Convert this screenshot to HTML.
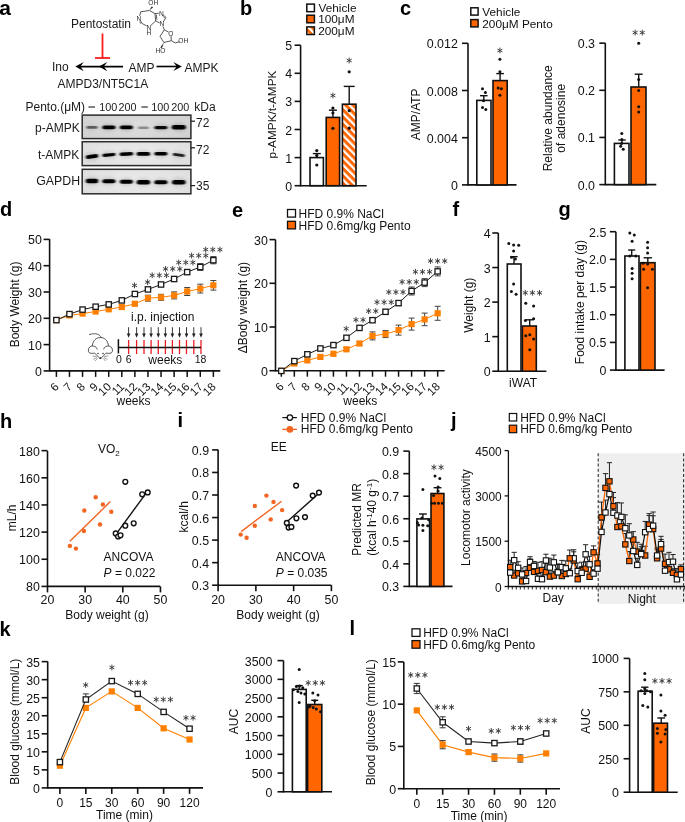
<!DOCTYPE html>
<html><head><meta charset="utf-8"><style>
html,body{margin:0;padding:0;background:#fff;overflow:hidden;}
svg{display:block;will-change:transform;}
text{font-family:"Liberation Sans",sans-serif;}
</style></head><body>
<svg width="685" height="822" viewBox="0 0 685 822">
<rect width="685" height="822" fill="#fff"/>
<text x="-0.8" y="14.6" font-size="21" font-weight="bold" fill="#000">a</text>
<text x="71" y="27.8" font-size="12" text-anchor="start" font-weight="normal" fill="#1a1a1a" >Pentostatin</text>
<line x1="102.5" y1="33.5" x2="102.5" y2="58" stroke="#fa1e1e" stroke-width="1.8" />
<line x1="95" y1="58" x2="110" y2="58" stroke="#fa1e1e" stroke-width="1.8" />
<line x1="80" y1="66.6" x2="123" y2="66.6" stroke="#000" stroke-width="1.6" />
<path d="M75.3 66.6 L83.8 62 L80.3 66.6 L83.8 71.2 Z" fill="#000" stroke="none" stroke-width="1.5" />
<path d="M98.8 66.6 L107.3 62 L103.8 66.6 L107.3 71.2 Z" fill="#000" stroke="none" stroke-width="1.5" />
<text x="52" y="70.8" font-size="12" text-anchor="start" font-weight="normal" fill="#1a1a1a" >Ino</text>
<text x="128.5" y="71.6" font-size="12" text-anchor="start" font-weight="normal" fill="#1a1a1a" >AMP</text>
<line x1="156.5" y1="66.5" x2="177" y2="66.5" stroke="#000" stroke-width="1.6" />
<path d="M181.8 66.5 L173.3 61.9 L176.8 66.5 L173.3 71.1 Z" fill="#000" stroke="none" stroke-width="1.5" />
<text x="184.5" y="72.4" font-size="12" text-anchor="start" font-weight="normal" fill="#1a1a1a" >AMPK</text>
<text x="57.5" y="87.8" font-size="12" text-anchor="start" font-weight="normal" fill="#1a1a1a" >AMPD3/NT5C1A</text>
<line x1="149.4" y1="10.5" x2="140.7" y2="11.8" stroke="#3a3a3a" stroke-width="0.85" />
<line x1="149.4" y1="10.5" x2="155.0" y2="13.6" stroke="#3a3a3a" stroke-width="0.85" />
<line x1="155.0" y1="13.6" x2="155.6" y2="21.0" stroke="#3a3a3a" stroke-width="0.85" />
<line x1="155.6" y1="21.0" x2="150.91" y2="25.34" stroke="#3a3a3a" stroke-width="0.85" />
<line x1="155.0" y1="13.6" x2="158.71" y2="13.31" stroke="#3a3a3a" stroke-width="0.85" />
<line x1="163.2" y1="14.88" x2="166.0" y2="17.5" stroke="#3a3a3a" stroke-width="0.85" />
<line x1="166.0" y1="17.5" x2="163.36" y2="21.79" stroke="#3a3a3a" stroke-width="0.85" />
<line x1="159.65" y1="22.9" x2="155.6" y2="21.0" stroke="#3a3a3a" stroke-width="0.85" />
<line x1="162.96" y1="26.42" x2="164.3" y2="29.8" stroke="#3a3a3a" stroke-width="0.85" />
<line x1="164.3" y1="29.8" x2="168.6" y2="32.08" stroke="#3a3a3a" stroke-width="0.85" />
<line x1="171.04" y1="35.9" x2="171.3" y2="40.7" stroke="#3a3a3a" stroke-width="0.85" />
<line x1="171.3" y1="40.7" x2="163.9" y2="42.5" stroke="#3a3a3a" stroke-width="0.85" />
<line x1="163.9" y1="42.5" x2="160.0" y2="36.3" stroke="#3a3a3a" stroke-width="0.85" />
<line x1="160.0" y1="36.3" x2="164.3" y2="29.8" stroke="#3a3a3a" stroke-width="0.85" />
<line x1="171.3" y1="40.7" x2="175.3" y2="42.9" stroke="#3a3a3a" stroke-width="0.85" />
<line x1="175.3" y1="42.9" x2="179.42" y2="41.76" stroke="#3a3a3a" stroke-width="0.85" />
<line x1="140.7" y1="11.8" x2="139.65" y2="15.88" stroke="#3a3a3a" stroke-width="0.85" />
<line x1="140.39" y1="20.6" x2="142.3" y2="23.6" stroke="#3a3a3a" stroke-width="0.85" />
<line x1="142.3" y1="23.6" x2="146.7" y2="25.9" stroke="#3a3a3a" stroke-width="0.85" />
<line x1="156.39" y1="14.69" x2="156.8" y2="19.7" stroke="#3a3a3a" stroke-width="0.85" />
<line x1="162.82" y1="16.16" x2="164.74" y2="17.97" stroke="#3a3a3a" stroke-width="0.85" />
<line x1="139.7" y1="21.74" x2="140.97" y2="23.74" stroke="#3a3a3a" stroke-width="0.85" />
<g font-size="6.6" fill="#2a2a2a" text-anchor="middle">
<text x="153.3" y="5.4">OH</text>
<text x="139" y="20.8">N</text>
<text x="161.3" y="15.5">N</text>
<text x="162" y="26.4">N</text>
<text x="149" y="29.5">N</text>
<text x="149" y="34.5">H</text>
<text x="170.9" y="35.7">O</text>
<text x="183.3" y="43.3">OH</text>
<text x="160.4" y="52.5">HO</text>
</g>
<path d="M149.4 10.5 L151.6 6.6 L153.2 7.2 Z" fill="#2a2a2a" stroke="none" stroke-width="1.5" />
<path d="M163.9 42.5 L160.2 47.5 L162 48 Z" fill="#2a2a2a" stroke="none" stroke-width="1.5" />
<text x="25.5" y="111" font-size="12" text-anchor="start" font-weight="normal" fill="#1a1a1a" >Pento.(μM)</text>
<text x="99.2" y="111" font-size="10.8" text-anchor="start" font-weight="normal" fill="#1a1a1a" >100</text>
<text x="118.6" y="111" font-size="10.8" text-anchor="start" font-weight="normal" fill="#1a1a1a" >200</text>
<text x="151.2" y="111" font-size="10.8" text-anchor="start" font-weight="normal" fill="#1a1a1a" >100</text>
<text x="171.2" y="111" font-size="10.8" text-anchor="start" font-weight="normal" fill="#1a1a1a" >200</text>
<line x1="88.4" y1="107" x2="95" y2="107" stroke="#1a1a1a" stroke-width="1.1" />
<line x1="141.4" y1="107" x2="147.8" y2="107" stroke="#1a1a1a" stroke-width="1.1" />
<text x="194.3" y="111" font-size="12" text-anchor="start" font-weight="normal" fill="#1a1a1a" >kDa</text>
<text x="35" y="131.5" font-size="12" text-anchor="start" font-weight="normal" fill="#1a1a1a" >p-AMPK</text>
<text x="38" y="158.6" font-size="12" text-anchor="start" font-weight="normal" fill="#1a1a1a" >t-AMPK</text>
<text x="36.3" y="185.2" font-size="12.3" text-anchor="start" font-weight="normal" fill="#1a1a1a" >GAPDH</text>
<defs><filter id="blur1" x="-50%" y="-150%" width="200%" height="400%"><feGaussianBlur stdDeviation="0.9 0.7"/></filter><filter id="halo" x="-50%" y="-200%" width="200%" height="500%"><feGaussianBlur stdDeviation="2.2 2"/></filter><radialGradient id="bg2" cx="0.5" cy="0.5" r="0.7"><stop offset="0" stop-color="#f0f0f0"/><stop offset="1" stop-color="#dcdcdc"/></radialGradient><radialGradient id="bg1" cx="0.5" cy="0.5" r="0.7"><stop offset="0" stop-color="#e2e2e2"/><stop offset="1" stop-color="#cfcfcf"/></radialGradient></defs>
<rect x="82.2" y="115.1" width="108.7" height="23.5" fill="url(#bg1)" stroke="#2a2a2a" stroke-width="1.5" />
<g filter="url(#halo)">
<ellipse cx="92.0" cy="127.4" rx="6.5" ry="2.8" fill="#000" opacity="0.099"/>
<ellipse cx="108.9" cy="127.4" rx="7.5" ry="3.3" fill="#000" opacity="0.18"/>
<ellipse cx="126.4" cy="127.4" rx="7.5" ry="3.3" fill="#000" opacity="0.18"/>
<ellipse cx="143.4" cy="127.8" rx="6.5" ry="2.7" fill="#000" opacity="0.063"/>
<ellipse cx="160.9" cy="127.6" rx="7.5" ry="3.2" fill="#000" opacity="0.17099999999999999"/>
<ellipse cx="178.8" cy="127.2" rx="8.0" ry="3.7" fill="#000" opacity="0.18"/>
</g><g filter="url(#blur1)">
<rect x="86.5" y="126.10000000000001" width="11" height="2.6" rx="1.3" fill="#000" opacity="0.55" transform="rotate(0 92.0 127.4)"/>
<rect x="102.4" y="125.60000000000001" width="13" height="3.6" rx="1.8" fill="#000" opacity="1" transform="rotate(0 108.9 127.4)"/>
<rect x="119.9" y="125.60000000000001" width="13" height="3.6" rx="1.8" fill="#000" opacity="1" transform="rotate(0 126.4 127.4)"/>
<rect x="137.9" y="126.6" width="11" height="2.4" rx="1.2" fill="#000" opacity="0.35" transform="rotate(0 143.4 127.8)"/>
<rect x="154.4" y="125.89999999999999" width="13" height="3.4" rx="1.7" fill="#000" opacity="0.95" transform="rotate(0 160.9 127.6)"/>
<rect x="171.8" y="125.0" width="14" height="4.4" rx="2.2" fill="#000" opacity="1" transform="rotate(0 178.8 127.2)"/>
</g>
<rect x="82.2" y="141.7" width="108.7" height="23.900000000000006" fill="url(#bg2)" stroke="#2a2a2a" stroke-width="1.5" />
<g filter="url(#halo)">
<ellipse cx="92.0" cy="156.5" rx="7.25" ry="3.3" fill="#000" opacity="0.18"/>
<ellipse cx="108.9" cy="154.9" rx="7.5" ry="3.1" fill="#000" opacity="0.18"/>
<ellipse cx="126.4" cy="154.0" rx="7.75" ry="3.2" fill="#000" opacity="0.18"/>
<ellipse cx="143.4" cy="153.9" rx="7.75" ry="3.4" fill="#000" opacity="0.18"/>
<ellipse cx="160.9" cy="153.8" rx="7.5" ry="3.2" fill="#000" opacity="0.18"/>
<ellipse cx="178.8" cy="155.0" rx="7.0" ry="2.9" fill="#000" opacity="0.153"/>
</g><g filter="url(#blur1)">
<rect x="85.75" y="154.7" width="12.5" height="3.6" rx="1.8" fill="#000" opacity="1" transform="rotate(-8 92.0 156.5)"/>
<rect x="102.4" y="153.3" width="13" height="3.2" rx="1.6" fill="#000" opacity="1" transform="rotate(-5 108.9 154.9)"/>
<rect x="119.65" y="152.3" width="13.5" height="3.4" rx="1.7" fill="#000" opacity="1" transform="rotate(-2 126.4 154.0)"/>
<rect x="136.65" y="152.0" width="13.5" height="3.8" rx="1.9" fill="#000" opacity="1" transform="rotate(0 143.4 153.9)"/>
<rect x="154.4" y="152.10000000000002" width="13" height="3.4" rx="1.7" fill="#000" opacity="1" transform="rotate(0 160.9 153.8)"/>
<rect x="172.8" y="153.6" width="12" height="2.8" rx="1.4" fill="#000" opacity="0.85" transform="rotate(8 178.8 155.0)"/>
</g>
<rect x="82.2" y="169.3" width="108.7" height="24.5" fill="url(#bg2)" stroke="#2a2a2a" stroke-width="1.5" />
<g filter="url(#halo)">
<ellipse cx="92.0" cy="181.0" rx="7.25" ry="3.8" fill="#000" opacity="0.18"/>
<ellipse cx="108.9" cy="181.3" rx="7.5" ry="3.5" fill="#000" opacity="0.18"/>
<ellipse cx="126.4" cy="181.8" rx="7.5" ry="3.5" fill="#000" opacity="0.18"/>
<ellipse cx="143.4" cy="182.2" rx="7.75" ry="3.8" fill="#000" opacity="0.18"/>
<ellipse cx="160.9" cy="182.2" rx="7.5" ry="3.5" fill="#000" opacity="0.18"/>
<ellipse cx="178.8" cy="182.2" rx="7.75" ry="3.7" fill="#000" opacity="0.18"/>
</g><g filter="url(#blur1)">
<rect x="85.75" y="178.7" width="12.5" height="4.6" rx="2.3" fill="#000" opacity="1" transform="rotate(0 92.0 181.0)"/>
<rect x="102.4" y="179.3" width="13" height="4.0" rx="2.0" fill="#000" opacity="1" transform="rotate(0 108.9 181.3)"/>
<rect x="119.9" y="179.8" width="13" height="4.0" rx="2.0" fill="#000" opacity="1" transform="rotate(0 126.4 181.8)"/>
<rect x="136.65" y="179.89999999999998" width="13.5" height="4.6" rx="2.3" fill="#000" opacity="1" transform="rotate(0 143.4 182.2)"/>
<rect x="154.4" y="180.2" width="13" height="4.0" rx="2.0" fill="#000" opacity="1" transform="rotate(0 160.9 182.2)"/>
<rect x="172.05" y="180.0" width="13.5" height="4.4" rx="2.2" fill="#000" opacity="1" transform="rotate(0 178.8 182.2)"/>
</g>
<line x1="190.9" y1="121.2" x2="195" y2="121.2" stroke="#1a1a1a" stroke-width="1.2" />
<text x="196" y="126.8" font-size="12" text-anchor="start" font-weight="normal" fill="#1a1a1a" >72</text>
<line x1="190.9" y1="147.8" x2="195" y2="147.8" stroke="#1a1a1a" stroke-width="1.2" />
<text x="196" y="153.8" font-size="12" text-anchor="start" font-weight="normal" fill="#1a1a1a" >72</text>
<line x1="190.9" y1="185.6" x2="195" y2="185.6" stroke="#1a1a1a" stroke-width="1.2" />
<text x="196" y="190.2" font-size="12" text-anchor="start" font-weight="normal" fill="#1a1a1a" >35</text>
<text x="240" y="14.6" font-size="20" text-anchor="start" font-weight="bold" fill="#000" >b</text>
<defs><pattern id="hatch" patternUnits="userSpaceOnUse" width="5.2" height="5.2" patternTransform="rotate(-45)"><rect width="5.2" height="5.2" fill="#ff6600"/><rect width="2.2" height="5.2" fill="#fff"/></pattern></defs>
<rect x="306.8" y="4.1" width="7.6" height="7.6" fill="#fff" stroke="#111" stroke-width="1.5" />
<rect x="306.8" y="15.2" width="7.6" height="7.6" fill="#ff6600" stroke="#111" stroke-width="1.5" />
<rect x="306.8" y="26.9" width="7.6" height="7.6" fill="url(#hatch)" stroke="#111" stroke-width="1.5" />
<text x="318.5" y="11.8" font-size="11.8" text-anchor="start" font-weight="normal" fill="#111" >Vehicle</text>
<text x="318.2" y="23" font-size="11.8" text-anchor="start" font-weight="normal" fill="#111" >100μM</text>
<text x="318.2" y="34.8" font-size="11.8" text-anchor="start" font-weight="normal" fill="#111" >200μM</text>
<line x1="300.6" y1="186.5" x2="300.6" y2="45.19999999999999" stroke="#111" stroke-width="1.6" />
<line x1="294.6" y1="185.7" x2="300.6" y2="185.7" stroke="#111" stroke-width="1.6" />
<text x="292.1" y="190.7" font-size="12.4" text-anchor="end" font-weight="normal" fill="#111" >0</text>
<line x1="294.6" y1="157.6" x2="300.6" y2="157.6" stroke="#111" stroke-width="1.6" />
<text x="292.1" y="162.6" font-size="12.4" text-anchor="end" font-weight="normal" fill="#111" >1</text>
<line x1="294.6" y1="129.5" x2="300.6" y2="129.5" stroke="#111" stroke-width="1.6" />
<text x="292.1" y="134.5" font-size="12.4" text-anchor="end" font-weight="normal" fill="#111" >2</text>
<line x1="294.6" y1="101.39999999999998" x2="300.6" y2="101.39999999999998" stroke="#111" stroke-width="1.6" />
<text x="292.1" y="106.39999999999998" font-size="12.4" text-anchor="end" font-weight="normal" fill="#111" >3</text>
<line x1="294.6" y1="73.29999999999998" x2="300.6" y2="73.29999999999998" stroke="#111" stroke-width="1.6" />
<text x="292.1" y="78.29999999999998" font-size="12.4" text-anchor="end" font-weight="normal" fill="#111" >4</text>
<line x1="294.6" y1="45.19999999999999" x2="300.6" y2="45.19999999999999" stroke="#111" stroke-width="1.6" />
<text x="292.1" y="50.19999999999999" font-size="12.4" text-anchor="end" font-weight="normal" fill="#111" >5</text>
<line x1="300.6" y1="185.7" x2="366.7" y2="185.7" stroke="#111" stroke-width="1.6" />
<text x="0" y="0" font-size="11.8" text-anchor="middle" fill="#111" transform="translate(275.5,114.5) rotate(-90)">p-AMPK/t-AMPK</text>
<rect x="310.0" y="157.6" width="13.4" height="28.099999999999994" fill="#fff" stroke="#111" stroke-width="1.6" />
<rect x="326.2" y="117.41699999999999" width="13.4" height="68.283" fill="#ff6600" stroke="#111" stroke-width="1.6" />
<rect x="342.40000000000003" y="104.21" width="13.599999999999989" height="81.49" fill="url(#hatch)" stroke="#111" stroke-width="1.6" />
<line x1="316.8" y1="157.6" x2="316.8" y2="153.6" stroke="#111" stroke-width="1.4" />
<line x1="312.8" y1="153.6" x2="320.8" y2="153.6" stroke="#111" stroke-width="1.4" />
<line x1="332.9" y1="117.41699999999999" x2="332.9" y2="110.2" stroke="#111" stroke-width="1.4" />
<line x1="328.9" y1="110.2" x2="336.9" y2="110.2" stroke="#111" stroke-width="1.4" />
<line x1="349.2" y1="104.21" x2="349.2" y2="86.4" stroke="#111" stroke-width="1.4" />
<line x1="343.7" y1="86.4" x2="354.7" y2="86.4" stroke="#111" stroke-width="1.4" />
<circle cx="316.8" cy="150.6" r="1.6" fill="#111" stroke="none" stroke-width="1" />
<circle cx="316.8" cy="155.5" r="1.6" fill="#111" stroke="none" stroke-width="1" />
<circle cx="316.8" cy="165" r="1.6" fill="#111" stroke="none" stroke-width="1" />
<circle cx="332.9" cy="108.1" r="1.6" fill="#111" stroke="none" stroke-width="1" />
<circle cx="332.9" cy="113" r="1.6" fill="#111" stroke="none" stroke-width="1" />
<circle cx="332.9" cy="128.3" r="1.6" fill="#111" stroke="none" stroke-width="1" />
<circle cx="349.2" cy="71.8" r="1.6" fill="#111" stroke="none" stroke-width="1" />
<circle cx="349.2" cy="110.7" r="1.6" fill="#111" stroke="none" stroke-width="1" />
<circle cx="349.2" cy="128.2" r="1.6" fill="#111" stroke="none" stroke-width="1" />
<path d="M332.90 92.60 L332.90 98.40 M330.39 94.05 L335.41 96.95 M335.41 94.05 L330.39 96.95" fill="none" stroke="#3a3a3a" stroke-width="0.95" />
<path d="M349.20 57.60 L349.20 63.40 M346.69 59.05 L351.71 61.95 M351.71 59.05 L346.69 61.95" fill="none" stroke="#3a3a3a" stroke-width="0.95" />
<text x="400" y="14.6" font-size="20" text-anchor="start" font-weight="bold" fill="#000" >c</text>
<rect x="470.8" y="7.8" width="7.3" height="7.3" fill="#fff" stroke="#111" stroke-width="1.5" />
<rect x="470.8" y="19.6" width="7.3" height="7.3" fill="#ff6600" stroke="#111" stroke-width="1.5" />
<text x="482.3" y="15.6" font-size="11.8" text-anchor="start" font-weight="normal" fill="#111" >Vehicle</text>
<text x="482.3" y="27.8" font-size="11.8" text-anchor="start" font-weight="normal" fill="#111" >200μM Pento</text>
<line x1="468" y1="185.70000000000002" x2="468" y2="43.2" stroke="#111" stroke-width="1.6" />
<line x1="462.0" y1="184.9" x2="468" y2="184.9" stroke="#111" stroke-width="1.6" />
<text x="457.8" y="189.9" font-size="12.4" text-anchor="end" font-weight="normal" fill="#111" >0</text>
<line x1="462.0" y1="137.7" x2="468" y2="137.7" stroke="#111" stroke-width="1.6" />
<text x="457.8" y="142.7" font-size="12.4" text-anchor="end" font-weight="normal" fill="#111" >0.004</text>
<line x1="462.0" y1="90.5" x2="468" y2="90.5" stroke="#111" stroke-width="1.6" />
<text x="457.8" y="95.5" font-size="12.4" text-anchor="end" font-weight="normal" fill="#111" >0.008</text>
<line x1="462.0" y1="43.29999999999998" x2="468" y2="43.29999999999998" stroke="#111" stroke-width="1.6" />
<text x="457.8" y="48.29999999999998" font-size="12.4" text-anchor="end" font-weight="normal" fill="#111" >0.012</text>
<line x1="468" y1="184.9" x2="516.5" y2="184.9" stroke="#111" stroke-width="1.6" />
<text x="0" y="0" font-size="12" text-anchor="middle" fill="#111" transform="translate(420,114.3) rotate(-90)">AMP/ATP</text>
<rect x="476.8" y="100.4" width="14.200000000000012" height="84.5" fill="#fff" stroke="#111" stroke-width="1.6" />
<rect x="493.0" y="80.6" width="14.200000000000012" height="104.30000000000001" fill="#ff6600" stroke="#111" stroke-width="1.6" />
<line x1="483.8" y1="100.4" x2="483.8" y2="95.7" stroke="#111" stroke-width="1.4" />
<line x1="480.0" y1="95.7" x2="487.6" y2="95.7" stroke="#111" stroke-width="1.4" />
<line x1="500.1" y1="80.6" x2="500.1" y2="73.6" stroke="#111" stroke-width="1.4" />
<line x1="496.3" y1="73.6" x2="503.90000000000003" y2="73.6" stroke="#111" stroke-width="1.4" />
<circle cx="482.5" cy="88.7" r="1.5" fill="#111" stroke="none" stroke-width="1" />
<circle cx="485.4" cy="92.5" r="1.5" fill="#111" stroke="none" stroke-width="1" />
<circle cx="483.5" cy="100.8" r="1.5" fill="#111" stroke="none" stroke-width="1" />
<circle cx="482.5" cy="107.5" r="1.5" fill="#111" stroke="none" stroke-width="1" />
<circle cx="485.8" cy="109.4" r="1.5" fill="#111" stroke="none" stroke-width="1" />
<circle cx="499.9" cy="59.2" r="1.5" fill="#111" stroke="none" stroke-width="1" />
<circle cx="499.9" cy="71.7" r="1.5" fill="#111" stroke="none" stroke-width="1" />
<circle cx="498.2" cy="88.1" r="1.5" fill="#111" stroke="none" stroke-width="1" />
<circle cx="501.4" cy="88.7" r="1.5" fill="#111" stroke="none" stroke-width="1" />
<circle cx="499.9" cy="95.3" r="1.5" fill="#111" stroke="none" stroke-width="1" />
<path d="M499.90 47.60 L499.90 53.40 M497.39 49.05 L502.41 51.95 M502.41 49.05 L497.39 51.95" fill="none" stroke="#3a3a3a" stroke-width="0.95" />
<line x1="605.3" y1="185.4" x2="605.3" y2="43.1" stroke="#111" stroke-width="1.6" />
<line x1="599.3" y1="184.6" x2="605.3" y2="184.6" stroke="#111" stroke-width="1.6" />
<text x="595.0" y="189.6" font-size="12.4" text-anchor="end" font-weight="normal" fill="#111" >0.0</text>
<line x1="599.3" y1="137.45" x2="605.3" y2="137.45" stroke="#111" stroke-width="1.6" />
<text x="595.0" y="142.45" font-size="12.4" text-anchor="end" font-weight="normal" fill="#111" >0.1</text>
<line x1="599.3" y1="90.3" x2="605.3" y2="90.3" stroke="#111" stroke-width="1.6" />
<text x="595.0" y="95.3" font-size="12.4" text-anchor="end" font-weight="normal" fill="#111" >0.2</text>
<line x1="599.3" y1="43.150000000000006" x2="605.3" y2="43.150000000000006" stroke="#111" stroke-width="1.6" />
<text x="595.0" y="48.150000000000006" font-size="12.4" text-anchor="end" font-weight="normal" fill="#111" >0.3</text>
<line x1="605.3" y1="184.6" x2="656.3" y2="184.6" stroke="#111" stroke-width="1.6" />
<text x="0" y="0" font-size="12" text-anchor="middle" fill="#111" transform="translate(551.5,118.3) rotate(-90)">Relative abundance</text>
<text x="0" y="0" font-size="12" text-anchor="middle" fill="#111" transform="translate(565.3,118.3) rotate(-90)">of adenosine</text>
<rect x="614.4" y="143.4" width="14.599999999999932" height="41.19999999999999" fill="#fff" stroke="#111" stroke-width="1.6" />
<rect x="631.0" y="87.0" width="14.99999999999991" height="97.6" fill="#ff6600" stroke="#111" stroke-width="1.6" />
<line x1="622" y1="143.4" x2="622" y2="140.0" stroke="#111" stroke-width="1.4" />
<line x1="618.3" y1="140.0" x2="625.7" y2="140.0" stroke="#111" stroke-width="1.4" />
<line x1="638.7" y1="87.0" x2="638.7" y2="74.2" stroke="#111" stroke-width="1.4" />
<line x1="634.7" y1="74.2" x2="642.7" y2="74.2" stroke="#111" stroke-width="1.4" />
<circle cx="621.8" cy="133.4" r="1.5" fill="#111" stroke="none" stroke-width="1" />
<circle cx="621.8" cy="139.5" r="1.5" fill="#111" stroke="none" stroke-width="1" />
<circle cx="620.7" cy="146.3" r="1.5" fill="#111" stroke="none" stroke-width="1" />
<circle cx="623.2" cy="149.2" r="1.5" fill="#111" stroke="none" stroke-width="1" />
<circle cx="621.5" cy="143.5" r="1.5" fill="#111" stroke="none" stroke-width="1" />
<circle cx="638.7" cy="43.3" r="1.5" fill="#111" stroke="none" stroke-width="1" />
<circle cx="638.7" cy="79.4" r="1.5" fill="#111" stroke="none" stroke-width="1" />
<circle cx="638.7" cy="90.6" r="1.5" fill="#111" stroke="none" stroke-width="1" />
<circle cx="638.7" cy="106.8" r="1.5" fill="#111" stroke="none" stroke-width="1" />
<circle cx="638.7" cy="112" r="1.5" fill="#111" stroke="none" stroke-width="1" />
<path d="M635.15 29.70 L635.15 35.50 M632.64 31.15 L637.66 34.05 M637.66 31.15 L632.64 34.05 M642.25 29.70 L642.25 35.50 M639.74 31.15 L644.76 34.05 M644.76 31.15 L639.74 34.05" fill="none" stroke="#3a3a3a" stroke-width="0.95" />
<text x="0" y="216.1" font-size="20" text-anchor="start" font-weight="bold" fill="#000" >d</text>
<line x1="49.6" y1="371.7" x2="49.6" y2="239.1" stroke="#111" stroke-width="1.6" />
<line x1="43.6" y1="370.9" x2="49.6" y2="370.9" stroke="#111" stroke-width="1.6" />
<text x="41.9" y="375.9" font-size="12.4" text-anchor="end" font-weight="normal" fill="#111" >0</text>
<line x1="43.6" y1="344.59999999999997" x2="49.6" y2="344.59999999999997" stroke="#111" stroke-width="1.6" />
<text x="41.9" y="349.59999999999997" font-size="12.4" text-anchor="end" font-weight="normal" fill="#111" >10</text>
<line x1="43.6" y1="318.29999999999995" x2="49.6" y2="318.29999999999995" stroke="#111" stroke-width="1.6" />
<text x="41.9" y="323.29999999999995" font-size="12.4" text-anchor="end" font-weight="normal" fill="#111" >20</text>
<line x1="43.6" y1="292.0" x2="49.6" y2="292.0" stroke="#111" stroke-width="1.6" />
<text x="41.9" y="297.0" font-size="12.4" text-anchor="end" font-weight="normal" fill="#111" >30</text>
<line x1="43.6" y1="265.7" x2="49.6" y2="265.7" stroke="#111" stroke-width="1.6" />
<text x="41.9" y="270.7" font-size="12.4" text-anchor="end" font-weight="normal" fill="#111" >40</text>
<line x1="43.6" y1="239.39999999999998" x2="49.6" y2="239.39999999999998" stroke="#111" stroke-width="1.6" />
<text x="41.9" y="244.39999999999998" font-size="12.4" text-anchor="end" font-weight="normal" fill="#111" >50</text>
<line x1="49.6" y1="370.9" x2="220.3" y2="370.9" stroke="#111" stroke-width="1.6" />
<text x="0" y="0" font-size="12" text-anchor="middle" fill="#111" transform="translate(18.5,304.4) rotate(-90)">Body Weight (g)</text>
<line x1="56.4" y1="370.9" x2="56.4" y2="376.9" stroke="#111" stroke-width="1.5" />
<text x="0" y="0" font-size="11.5" text-anchor="end" fill="#111" transform="translate(59.60,387.4) rotate(-45)">6</text>
<line x1="69.48" y1="370.9" x2="69.48" y2="376.9" stroke="#111" stroke-width="1.5" />
<text x="0" y="0" font-size="11.5" text-anchor="end" fill="#111" transform="translate(72.68,387.4) rotate(-45)">7</text>
<line x1="82.56" y1="370.9" x2="82.56" y2="376.9" stroke="#111" stroke-width="1.5" />
<text x="0" y="0" font-size="11.5" text-anchor="end" fill="#111" transform="translate(85.76,387.4) rotate(-45)">8</text>
<line x1="95.64" y1="370.9" x2="95.64" y2="376.9" stroke="#111" stroke-width="1.5" />
<text x="0" y="0" font-size="11.5" text-anchor="end" fill="#111" transform="translate(98.84,387.4) rotate(-45)">9</text>
<line x1="108.72" y1="370.9" x2="108.72" y2="376.9" stroke="#111" stroke-width="1.5" />
<text x="0" y="0" font-size="11.5" text-anchor="end" fill="#111" transform="translate(111.92,387.4) rotate(-45)">10</text>
<line x1="121.80000000000001" y1="370.9" x2="121.80000000000001" y2="376.9" stroke="#111" stroke-width="1.5" />
<text x="0" y="0" font-size="11.5" text-anchor="end" fill="#111" transform="translate(125.00,387.4) rotate(-45)">11</text>
<line x1="134.88" y1="370.9" x2="134.88" y2="376.9" stroke="#111" stroke-width="1.5" />
<text x="0" y="0" font-size="11.5" text-anchor="end" fill="#111" transform="translate(138.08,387.4) rotate(-45)">12</text>
<line x1="147.96" y1="370.9" x2="147.96" y2="376.9" stroke="#111" stroke-width="1.5" />
<text x="0" y="0" font-size="11.5" text-anchor="end" fill="#111" transform="translate(151.16,387.4) rotate(-45)">13</text>
<line x1="161.04" y1="370.9" x2="161.04" y2="376.9" stroke="#111" stroke-width="1.5" />
<text x="0" y="0" font-size="11.5" text-anchor="end" fill="#111" transform="translate(164.24,387.4) rotate(-45)">14</text>
<line x1="174.12" y1="370.9" x2="174.12" y2="376.9" stroke="#111" stroke-width="1.5" />
<text x="0" y="0" font-size="11.5" text-anchor="end" fill="#111" transform="translate(177.32,387.4) rotate(-45)">15</text>
<line x1="187.20000000000002" y1="370.9" x2="187.20000000000002" y2="376.9" stroke="#111" stroke-width="1.5" />
<text x="0" y="0" font-size="11.5" text-anchor="end" fill="#111" transform="translate(190.40,387.4) rotate(-45)">16</text>
<line x1="200.28" y1="370.9" x2="200.28" y2="376.9" stroke="#111" stroke-width="1.5" />
<text x="0" y="0" font-size="11.5" text-anchor="end" fill="#111" transform="translate(203.48,387.4) rotate(-45)">17</text>
<line x1="213.36" y1="370.9" x2="213.36" y2="376.9" stroke="#111" stroke-width="1.5" />
<text x="0" y="0" font-size="11.5" text-anchor="end" fill="#111" transform="translate(216.56,387.4) rotate(-45)">18</text>
<text x="116.5" y="405.3" font-size="12" text-anchor="start" font-weight="normal" fill="#111" >weeks</text>
<path d="M56.40 320.10 L69.48 315.40 L82.56 313.60 L95.64 311.50 L108.72 309.30 L121.80 307.00 L134.88 303.80 L147.96 298.20 L161.04 297.30 L174.12 295.40 L187.20 291.50 L200.28 288.60 L213.36 285.30" fill="none" stroke="#ff8000" stroke-width="1.0" />
<line x1="134.88" y1="302.3" x2="134.88" y2="305.3" stroke="#444" stroke-width="1.0" />
<line x1="131.88" y1="302.3" x2="137.88" y2="302.3" stroke="#444" stroke-width="1.0" />
<line x1="131.88" y1="305.3" x2="137.88" y2="305.3" stroke="#444" stroke-width="1.0" />
<line x1="147.96" y1="295.2" x2="147.96" y2="301.2" stroke="#444" stroke-width="1.0" />
<line x1="144.96" y1="295.2" x2="150.96" y2="295.2" stroke="#444" stroke-width="1.0" />
<line x1="144.96" y1="301.2" x2="150.96" y2="301.2" stroke="#444" stroke-width="1.0" />
<line x1="161.04" y1="294.3" x2="161.04" y2="300.3" stroke="#444" stroke-width="1.0" />
<line x1="158.04" y1="294.3" x2="164.04" y2="294.3" stroke="#444" stroke-width="1.0" />
<line x1="158.04" y1="300.3" x2="164.04" y2="300.3" stroke="#444" stroke-width="1.0" />
<line x1="174.12" y1="291.9" x2="174.12" y2="298.9" stroke="#444" stroke-width="1.0" />
<line x1="171.12" y1="291.9" x2="177.12" y2="291.9" stroke="#444" stroke-width="1.0" />
<line x1="171.12" y1="298.9" x2="177.12" y2="298.9" stroke="#444" stroke-width="1.0" />
<line x1="187.20000000000002" y1="287.5" x2="187.20000000000002" y2="295.5" stroke="#444" stroke-width="1.0" />
<line x1="184.20000000000002" y1="287.5" x2="190.20000000000002" y2="287.5" stroke="#444" stroke-width="1.0" />
<line x1="184.20000000000002" y1="295.5" x2="190.20000000000002" y2="295.5" stroke="#444" stroke-width="1.0" />
<line x1="200.28" y1="284.20000000000005" x2="200.28" y2="293.0" stroke="#444" stroke-width="1.0" />
<line x1="197.28" y1="284.20000000000005" x2="203.28" y2="284.20000000000005" stroke="#444" stroke-width="1.0" />
<line x1="197.28" y1="293.0" x2="203.28" y2="293.0" stroke="#444" stroke-width="1.0" />
<line x1="213.36" y1="280.5" x2="213.36" y2="290.1" stroke="#444" stroke-width="1.0" />
<line x1="210.36" y1="280.5" x2="216.36" y2="280.5" stroke="#444" stroke-width="1.0" />
<line x1="210.36" y1="290.1" x2="216.36" y2="290.1" stroke="#444" stroke-width="1.0" />
<rect x="53.3" y="317.0" width="6.2" height="6.2" fill="#ff8000" stroke="none" stroke-width="1.5" />
<rect x="66.38" y="312.3" width="6.2" height="6.2" fill="#ff8000" stroke="none" stroke-width="1.5" />
<rect x="79.46" y="310.5" width="6.2" height="6.2" fill="#ff8000" stroke="none" stroke-width="1.5" />
<rect x="92.54" y="308.4" width="6.2" height="6.2" fill="#ff8000" stroke="none" stroke-width="1.5" />
<rect x="105.62" y="306.2" width="6.2" height="6.2" fill="#ff8000" stroke="none" stroke-width="1.5" />
<rect x="118.7" y="303.9" width="6.2" height="6.2" fill="#ff8000" stroke="none" stroke-width="1.5" />
<rect x="131.78" y="300.7" width="6.2" height="6.2" fill="#ff8000" stroke="none" stroke-width="1.5" />
<rect x="144.86" y="295.1" width="6.2" height="6.2" fill="#ff8000" stroke="none" stroke-width="1.5" />
<rect x="157.94" y="294.2" width="6.2" height="6.2" fill="#ff8000" stroke="none" stroke-width="1.5" />
<rect x="171.02" y="292.3" width="6.2" height="6.2" fill="#ff8000" stroke="none" stroke-width="1.5" />
<rect x="184.1" y="288.4" width="6.2" height="6.2" fill="#ff8000" stroke="none" stroke-width="1.5" />
<rect x="197.18" y="285.5" width="6.2" height="6.2" fill="#ff8000" stroke="none" stroke-width="1.5" />
<rect x="210.26" y="282.2" width="6.2" height="6.2" fill="#ff8000" stroke="none" stroke-width="1.5" />
<path d="M56.40 320.10 L69.48 314.10 L82.56 309.60 L95.64 306.70 L108.72 304.40 L121.80 300.40 L134.88 294.00 L147.96 289.40 L161.04 284.50 L174.12 279.00 L187.20 272.10 L200.28 267.00 L213.36 260.20" fill="none" stroke="#1a1a1a" stroke-width="1.0" />
<line x1="200.28" y1="263.6" x2="200.28" y2="270.4" stroke="#444" stroke-width="1.0" />
<line x1="197.28" y1="263.6" x2="203.28" y2="263.6" stroke="#444" stroke-width="1.0" />
<line x1="197.28" y1="270.4" x2="203.28" y2="270.4" stroke="#444" stroke-width="1.0" />
<line x1="213.36" y1="256.59999999999997" x2="213.36" y2="263.8" stroke="#444" stroke-width="1.0" />
<line x1="210.36" y1="256.59999999999997" x2="216.36" y2="256.59999999999997" stroke="#444" stroke-width="1.0" />
<line x1="210.36" y1="263.8" x2="216.36" y2="263.8" stroke="#444" stroke-width="1.0" />
<rect x="53.75" y="317.45" width="5.3" height="5.3" fill="#fff" stroke="#1a1a1a" stroke-width="1.3" />
<rect x="66.83" y="311.45" width="5.3" height="5.3" fill="#fff" stroke="#1a1a1a" stroke-width="1.3" />
<rect x="79.91" y="306.95" width="5.3" height="5.3" fill="#fff" stroke="#1a1a1a" stroke-width="1.3" />
<rect x="92.99" y="304.05" width="5.3" height="5.3" fill="#fff" stroke="#1a1a1a" stroke-width="1.3" />
<rect x="106.07" y="301.75" width="5.3" height="5.3" fill="#fff" stroke="#1a1a1a" stroke-width="1.3" />
<rect x="119.15" y="297.75" width="5.3" height="5.3" fill="#fff" stroke="#1a1a1a" stroke-width="1.3" />
<rect x="132.23" y="291.35" width="5.3" height="5.3" fill="#fff" stroke="#1a1a1a" stroke-width="1.3" />
<rect x="145.31" y="286.75" width="5.3" height="5.3" fill="#fff" stroke="#1a1a1a" stroke-width="1.3" />
<rect x="158.39" y="281.85" width="5.3" height="5.3" fill="#fff" stroke="#1a1a1a" stroke-width="1.3" />
<rect x="171.47" y="276.35" width="5.3" height="5.3" fill="#fff" stroke="#1a1a1a" stroke-width="1.3" />
<rect x="184.55" y="269.45" width="5.3" height="5.3" fill="#fff" stroke="#1a1a1a" stroke-width="1.3" />
<rect x="197.63" y="264.35" width="5.3" height="5.3" fill="#fff" stroke="#1a1a1a" stroke-width="1.3" />
<rect x="210.71" y="257.55" width="5.3" height="5.3" fill="#fff" stroke="#1a1a1a" stroke-width="1.3" />
<path d="M134.50 282.50 L134.50 288.30 M131.99 283.95 L137.01 286.85 M137.01 283.95 L131.99 286.85" fill="none" stroke="#3a3a3a" stroke-width="0.95" />
<path d="M147.60 279.20 L147.60 285.00 M145.09 280.65 L150.11 283.55 M150.11 280.65 L145.09 283.55" fill="none" stroke="#3a3a3a" stroke-width="0.95" />
<path d="M152.20 272.40 L152.20 278.20 M149.69 273.85 L154.71 276.75 M154.71 273.85 L149.69 276.75 M159.30 272.40 L159.30 278.20 M156.79 273.85 L161.81 276.75 M161.81 273.85 L156.79 276.75 M166.40 272.40 L166.40 278.20 M163.89 273.85 L168.91 276.75 M168.91 273.85 L163.89 276.75" fill="none" stroke="#3a3a3a" stroke-width="0.95" />
<path d="M165.60 266.00 L165.60 271.80 M163.09 267.45 L168.11 270.35 M168.11 267.45 L163.09 270.35 M172.70 266.00 L172.70 271.80 M170.19 267.45 L175.21 270.35 M175.21 267.45 L170.19 270.35 M179.80 266.00 L179.80 271.80 M177.29 267.45 L182.31 270.35 M182.31 267.45 L177.29 270.35" fill="none" stroke="#3a3a3a" stroke-width="0.95" />
<path d="M178.70 259.60 L178.70 265.40 M176.19 261.05 L181.21 263.95 M181.21 261.05 L176.19 263.95 M185.80 259.60 L185.80 265.40 M183.29 261.05 L188.31 263.95 M188.31 261.05 L183.29 263.95 M192.90 259.60 L192.90 265.40 M190.39 261.05 L195.41 263.95 M195.41 261.05 L190.39 263.95" fill="none" stroke="#3a3a3a" stroke-width="0.95" />
<path d="M191.60 252.70 L191.60 258.50 M189.09 254.15 L194.11 257.05 M194.11 254.15 L189.09 257.05 M198.70 252.70 L198.70 258.50 M196.19 254.15 L201.21 257.05 M201.21 254.15 L196.19 257.05 M205.80 252.70 L205.80 258.50 M203.29 254.15 L208.31 257.05 M208.31 254.15 L203.29 257.05" fill="none" stroke="#3a3a3a" stroke-width="0.95" />
<path d="M205.70 246.70 L205.70 252.50 M203.19 248.15 L208.21 251.05 M208.21 248.15 L203.19 251.05 M212.80 246.70 L212.80 252.50 M210.29 248.15 L215.31 251.05 M215.31 248.15 L210.29 251.05 M219.90 246.70 L219.90 252.50 M217.39 248.15 L222.41 251.05 M222.41 248.15 L217.39 251.05" fill="none" stroke="#3a3a3a" stroke-width="0.95" />
<text x="131" y="321.2" font-size="12" text-anchor="start" font-weight="normal" fill="#111" >i.p. injection</text>
<line x1="118.4" y1="339.2" x2="118.4" y2="353.5" stroke="#111" stroke-width="1.5" />
<line x1="128.6" y1="340" x2="128.6" y2="354" stroke="#ee1c25" stroke-width="1.3" />
<line x1="128.6" y1="327.2" x2="128.6" y2="335" stroke="#222" stroke-width="0.9" />
<path d="M126.8 333.6 L128.6 337.8 L130.4 333.6 Z" fill="#222" stroke="none" stroke-width="1.5" />
<line x1="136.6" y1="340" x2="136.6" y2="354" stroke="#ee1c25" stroke-width="1.3" />
<line x1="136.6" y1="327.2" x2="136.6" y2="335" stroke="#222" stroke-width="0.9" />
<path d="M134.79999999999998 333.6 L136.6 337.8 L138.4 333.6 Z" fill="#222" stroke="none" stroke-width="1.5" />
<line x1="144.0" y1="340" x2="144.0" y2="354" stroke="#ee1c25" stroke-width="1.3" />
<line x1="144.0" y1="327.2" x2="144.0" y2="335" stroke="#222" stroke-width="0.9" />
<path d="M142.2 333.6 L144.0 337.8 L145.8 333.6 Z" fill="#222" stroke="none" stroke-width="1.5" />
<line x1="151.1" y1="340" x2="151.1" y2="354" stroke="#ee1c25" stroke-width="1.3" />
<line x1="151.1" y1="327.2" x2="151.1" y2="335" stroke="#222" stroke-width="0.9" />
<path d="M149.29999999999998 333.6 L151.1 337.8 L152.9 333.6 Z" fill="#222" stroke="none" stroke-width="1.5" />
<line x1="158.3" y1="340" x2="158.3" y2="354" stroke="#ee1c25" stroke-width="1.3" />
<line x1="158.3" y1="327.2" x2="158.3" y2="335" stroke="#222" stroke-width="0.9" />
<path d="M156.5 333.6 L158.3 337.8 L160.10000000000002 333.6 Z" fill="#222" stroke="none" stroke-width="1.5" />
<line x1="165.4" y1="340" x2="165.4" y2="354" stroke="#ee1c25" stroke-width="1.3" />
<line x1="165.4" y1="327.2" x2="165.4" y2="335" stroke="#222" stroke-width="0.9" />
<path d="M163.6 333.6 L165.4 337.8 L167.20000000000002 333.6 Z" fill="#222" stroke="none" stroke-width="1.5" />
<line x1="172.4" y1="340" x2="172.4" y2="354" stroke="#ee1c25" stroke-width="1.3" />
<line x1="172.4" y1="327.2" x2="172.4" y2="335" stroke="#222" stroke-width="0.9" />
<path d="M170.6 333.6 L172.4 337.8 L174.20000000000002 333.6 Z" fill="#222" stroke="none" stroke-width="1.5" />
<line x1="179.5" y1="340" x2="179.5" y2="354" stroke="#ee1c25" stroke-width="1.3" />
<line x1="179.5" y1="327.2" x2="179.5" y2="335" stroke="#222" stroke-width="0.9" />
<path d="M177.7 333.6 L179.5 337.8 L181.3 333.6 Z" fill="#222" stroke="none" stroke-width="1.5" />
<line x1="186.5" y1="340" x2="186.5" y2="354" stroke="#ee1c25" stroke-width="1.3" />
<line x1="186.5" y1="327.2" x2="186.5" y2="335" stroke="#222" stroke-width="0.9" />
<path d="M184.7 333.6 L186.5 337.8 L188.3 333.6 Z" fill="#222" stroke="none" stroke-width="1.5" />
<line x1="193.8" y1="340" x2="193.8" y2="354" stroke="#ee1c25" stroke-width="1.3" />
<line x1="193.8" y1="327.2" x2="193.8" y2="335" stroke="#222" stroke-width="0.9" />
<path d="M192.0 333.6 L193.8 337.8 L195.60000000000002 333.6 Z" fill="#222" stroke="none" stroke-width="1.5" />
<line x1="201.0" y1="340" x2="201.0" y2="354" stroke="#ee1c25" stroke-width="1.3" />
<line x1="201.0" y1="327.2" x2="201.0" y2="335" stroke="#222" stroke-width="0.9" />
<path d="M199.2 333.6 L201.0 337.8 L202.8 333.6 Z" fill="#222" stroke="none" stroke-width="1.5" />
<line x1="118.4" y1="347.4" x2="201.0" y2="347.4" stroke="#111" stroke-width="1.5" />
<text x="118.8" y="363.3" font-size="10.5" text-anchor="middle" font-weight="normal" fill="#111" >0</text>
<text x="128.6" y="363.3" font-size="10.5" text-anchor="middle" font-weight="normal" fill="#111" >6</text>
<text x="148.3" y="364.2" font-size="12" text-anchor="start" font-weight="normal" fill="#111" >weeks</text>
<text x="200.6" y="363.3" font-size="10.5" text-anchor="middle" font-weight="normal" fill="#111" >18</text>
<path d="M97.3 349.4 C96.6 346.6 93.6 345.6 91.4 346.1 C88.9 346.8 87.9 349.6 88.5 351.6 C89.1 353.5 91.6 353.6 94.7 353.1 L100.4 358.9 L106.1 353.1 C109.2 353.6 111.7 353.5 112.3 351.6 C112.9 349.6 111.9 346.8 109.4 346.1 C107.2 345.6 104.2 346.6 103.5 349.4" fill="none" stroke="#222" stroke-width="0.75" />
<path d="M92.3 345.8 C93 340.2 96.4 337.5 100.4 337.5 C104.4 337.5 107.8 340.2 108.5 345.8" fill="none" stroke="#222" stroke-width="0.75" />
<path d="M101.4 337.8 C99.6 334.2 96 332.6 89.1 334.6" fill="none" stroke="#222" stroke-width="0.75" />
<circle cx="98.0" cy="353.6" r="0.75" fill="#222" stroke="none" stroke-width="1" />
<circle cx="103.0" cy="353.6" r="0.75" fill="#222" stroke="none" stroke-width="1" />
<circle cx="100.4" cy="358.2" r="0.9" fill="#222" stroke="none" stroke-width="1" />
<path d="M96.6 356.6 L92.6 355.9 M96.9 357.5 L93.4 359.4 M97.6 358.3 L95.2 361 M104.2 356.6 L108.2 355.9 M103.9 357.5 L107.4 359.4 M103.2 358.3 L105.6 361" fill="none" stroke="#333" stroke-width="0.5" />
<text x="232" y="216.5" font-size="20" text-anchor="start" font-weight="bold" fill="#000" >e</text>
<rect x="287.5" y="209.5" width="8" height="7.6" fill="#fff" stroke="#111" stroke-width="1.3" />
<rect x="287.5" y="221.3" width="8" height="7.6" fill="#ff6600" stroke="#111" stroke-width="1.3" />
<text x="298.5" y="217.6" font-size="12" text-anchor="start" font-weight="normal" fill="#111" >HFD 0.9% NaCl</text>
<text x="298.5" y="229.5" font-size="12" text-anchor="start" font-weight="normal" fill="#111" >HFD 0.6mg/kg Pento</text>
<line x1="275.5" y1="371.5" x2="275.5" y2="239.6" stroke="#111" stroke-width="1.6" />
<line x1="269.5" y1="370.7" x2="275.5" y2="370.7" stroke="#111" stroke-width="1.6" />
<text x="267.8" y="375.7" font-size="12.4" text-anchor="end" font-weight="normal" fill="#111" >0</text>
<line x1="269.5" y1="327.0" x2="275.5" y2="327.0" stroke="#111" stroke-width="1.6" />
<text x="267.8" y="332.0" font-size="12.4" text-anchor="end" font-weight="normal" fill="#111" >10</text>
<line x1="269.5" y1="283.29999999999995" x2="275.5" y2="283.29999999999995" stroke="#111" stroke-width="1.6" />
<text x="267.8" y="288.29999999999995" font-size="12.4" text-anchor="end" font-weight="normal" fill="#111" >20</text>
<line x1="269.5" y1="239.6" x2="275.5" y2="239.6" stroke="#111" stroke-width="1.6" />
<text x="267.8" y="244.6" font-size="12.4" text-anchor="end" font-weight="normal" fill="#111" >30</text>
<line x1="275.5" y1="370.7" x2="444.7" y2="370.7" stroke="#111" stroke-width="1.6" />
<text x="0" y="0" font-size="12" text-anchor="middle" fill="#111" transform="translate(246.5,307.6) rotate(-90)">ΔBody weight (g)</text>
<line x1="281.3" y1="370.7" x2="281.3" y2="376.7" stroke="#111" stroke-width="1.5" />
<text x="0" y="0" font-size="11.5" text-anchor="end" fill="#111" transform="translate(284.50,387.2) rotate(-45)">6</text>
<line x1="294.33" y1="370.7" x2="294.33" y2="376.7" stroke="#111" stroke-width="1.5" />
<text x="0" y="0" font-size="11.5" text-anchor="end" fill="#111" transform="translate(297.53,387.2) rotate(-45)">7</text>
<line x1="307.36" y1="370.7" x2="307.36" y2="376.7" stroke="#111" stroke-width="1.5" />
<text x="0" y="0" font-size="11.5" text-anchor="end" fill="#111" transform="translate(310.56,387.2) rotate(-45)">8</text>
<line x1="320.39" y1="370.7" x2="320.39" y2="376.7" stroke="#111" stroke-width="1.5" />
<text x="0" y="0" font-size="11.5" text-anchor="end" fill="#111" transform="translate(323.59,387.2) rotate(-45)">9</text>
<line x1="333.42" y1="370.7" x2="333.42" y2="376.7" stroke="#111" stroke-width="1.5" />
<text x="0" y="0" font-size="11.5" text-anchor="end" fill="#111" transform="translate(336.62,387.2) rotate(-45)">10</text>
<line x1="346.45" y1="370.7" x2="346.45" y2="376.7" stroke="#111" stroke-width="1.5" />
<text x="0" y="0" font-size="11.5" text-anchor="end" fill="#111" transform="translate(349.65,387.2) rotate(-45)">11</text>
<line x1="359.48" y1="370.7" x2="359.48" y2="376.7" stroke="#111" stroke-width="1.5" />
<text x="0" y="0" font-size="11.5" text-anchor="end" fill="#111" transform="translate(362.68,387.2) rotate(-45)">12</text>
<line x1="372.51" y1="370.7" x2="372.51" y2="376.7" stroke="#111" stroke-width="1.5" />
<text x="0" y="0" font-size="11.5" text-anchor="end" fill="#111" transform="translate(375.71,387.2) rotate(-45)">13</text>
<line x1="385.54" y1="370.7" x2="385.54" y2="376.7" stroke="#111" stroke-width="1.5" />
<text x="0" y="0" font-size="11.5" text-anchor="end" fill="#111" transform="translate(388.74,387.2) rotate(-45)">14</text>
<line x1="398.57" y1="370.7" x2="398.57" y2="376.7" stroke="#111" stroke-width="1.5" />
<text x="0" y="0" font-size="11.5" text-anchor="end" fill="#111" transform="translate(401.77,387.2) rotate(-45)">15</text>
<line x1="411.6" y1="370.7" x2="411.6" y2="376.7" stroke="#111" stroke-width="1.5" />
<text x="0" y="0" font-size="11.5" text-anchor="end" fill="#111" transform="translate(414.80,387.2) rotate(-45)">16</text>
<line x1="424.63" y1="370.7" x2="424.63" y2="376.7" stroke="#111" stroke-width="1.5" />
<text x="0" y="0" font-size="11.5" text-anchor="end" fill="#111" transform="translate(427.83,387.2) rotate(-45)">17</text>
<line x1="437.65999999999997" y1="370.7" x2="437.65999999999997" y2="376.7" stroke="#111" stroke-width="1.5" />
<text x="0" y="0" font-size="11.5" text-anchor="end" fill="#111" transform="translate(440.86,387.2) rotate(-45)">18</text>
<text x="343.3" y="405.3" font-size="12" text-anchor="start" font-weight="normal" fill="#111" >weeks</text>
<path d="M281.30 370.90 L294.33 363.50 L307.36 360.40 L320.39 356.90 L333.42 353.80 L346.45 349.30 L359.48 343.50 L372.51 335.90 L385.54 334.10 L398.57 330.10 L411.60 324.10 L424.63 319.40 L437.66 313.30" fill="none" stroke="#ff8000" stroke-width="1.0" />
<line x1="346.45" y1="347.8" x2="346.45" y2="350.8" stroke="#444" stroke-width="1.0" />
<line x1="343.45" y1="347.8" x2="349.45" y2="347.8" stroke="#444" stroke-width="1.0" />
<line x1="343.45" y1="350.8" x2="349.45" y2="350.8" stroke="#444" stroke-width="1.0" />
<line x1="359.48" y1="341.5" x2="359.48" y2="345.5" stroke="#444" stroke-width="1.0" />
<line x1="356.48" y1="341.5" x2="362.48" y2="341.5" stroke="#444" stroke-width="1.0" />
<line x1="356.48" y1="345.5" x2="362.48" y2="345.5" stroke="#444" stroke-width="1.0" />
<line x1="372.51" y1="331.9" x2="372.51" y2="339.9" stroke="#444" stroke-width="1.0" />
<line x1="369.51" y1="331.9" x2="375.51" y2="331.9" stroke="#444" stroke-width="1.0" />
<line x1="369.51" y1="339.9" x2="375.51" y2="339.9" stroke="#444" stroke-width="1.0" />
<line x1="385.54" y1="330.6" x2="385.54" y2="337.6" stroke="#444" stroke-width="1.0" />
<line x1="382.54" y1="330.6" x2="388.54" y2="330.6" stroke="#444" stroke-width="1.0" />
<line x1="382.54" y1="337.6" x2="388.54" y2="337.6" stroke="#444" stroke-width="1.0" />
<line x1="398.57" y1="325.1" x2="398.57" y2="335.1" stroke="#444" stroke-width="1.0" />
<line x1="395.57" y1="325.1" x2="401.57" y2="325.1" stroke="#444" stroke-width="1.0" />
<line x1="395.57" y1="335.1" x2="401.57" y2="335.1" stroke="#444" stroke-width="1.0" />
<line x1="411.6" y1="318.1" x2="411.6" y2="330.1" stroke="#444" stroke-width="1.0" />
<line x1="408.6" y1="318.1" x2="414.6" y2="318.1" stroke="#444" stroke-width="1.0" />
<line x1="408.6" y1="330.1" x2="414.6" y2="330.1" stroke="#444" stroke-width="1.0" />
<line x1="424.63" y1="313.09999999999997" x2="424.63" y2="325.7" stroke="#444" stroke-width="1.0" />
<line x1="421.63" y1="313.09999999999997" x2="427.63" y2="313.09999999999997" stroke="#444" stroke-width="1.0" />
<line x1="421.63" y1="325.7" x2="427.63" y2="325.7" stroke="#444" stroke-width="1.0" />
<line x1="437.65999999999997" y1="306.3" x2="437.65999999999997" y2="320.3" stroke="#444" stroke-width="1.0" />
<line x1="434.65999999999997" y1="306.3" x2="440.65999999999997" y2="306.3" stroke="#444" stroke-width="1.0" />
<line x1="434.65999999999997" y1="320.3" x2="440.65999999999997" y2="320.3" stroke="#444" stroke-width="1.0" />
<rect x="278.2" y="367.8" width="6.2" height="6.2" fill="#ff8000" stroke="none" stroke-width="1.5" />
<rect x="291.23" y="360.4" width="6.2" height="6.2" fill="#ff8000" stroke="none" stroke-width="1.5" />
<rect x="304.26" y="357.3" width="6.2" height="6.2" fill="#ff8000" stroke="none" stroke-width="1.5" />
<rect x="317.29" y="353.8" width="6.2" height="6.2" fill="#ff8000" stroke="none" stroke-width="1.5" />
<rect x="330.32" y="350.7" width="6.2" height="6.2" fill="#ff8000" stroke="none" stroke-width="1.5" />
<rect x="343.35" y="346.2" width="6.2" height="6.2" fill="#ff8000" stroke="none" stroke-width="1.5" />
<rect x="356.38" y="340.4" width="6.2" height="6.2" fill="#ff8000" stroke="none" stroke-width="1.5" />
<rect x="369.41" y="332.8" width="6.2" height="6.2" fill="#ff8000" stroke="none" stroke-width="1.5" />
<rect x="382.44" y="331.0" width="6.2" height="6.2" fill="#ff8000" stroke="none" stroke-width="1.5" />
<rect x="395.47" y="327.0" width="6.2" height="6.2" fill="#ff8000" stroke="none" stroke-width="1.5" />
<rect x="408.5" y="321.0" width="6.2" height="6.2" fill="#ff8000" stroke="none" stroke-width="1.5" />
<rect x="421.53" y="316.3" width="6.2" height="6.2" fill="#ff8000" stroke="none" stroke-width="1.5" />
<rect x="434.56" y="310.2" width="6.2" height="6.2" fill="#ff8000" stroke="none" stroke-width="1.5" />
<path d="M281.30 370.90 L294.33 361.10 L307.36 354.30 L320.39 348.50 L333.42 345.10 L346.45 337.80 L359.48 327.90 L372.51 320.20 L385.54 311.80 L398.57 303.10 L411.60 291.00 L424.63 282.60 L437.66 271.40" fill="none" stroke="#1a1a1a" stroke-width="1.0" />
<line x1="372.51" y1="318.7" x2="372.51" y2="321.7" stroke="#444" stroke-width="1.0" />
<line x1="369.51" y1="318.7" x2="375.51" y2="318.7" stroke="#444" stroke-width="1.0" />
<line x1="369.51" y1="321.7" x2="375.51" y2="321.7" stroke="#444" stroke-width="1.0" />
<line x1="385.54" y1="309.8" x2="385.54" y2="313.8" stroke="#444" stroke-width="1.0" />
<line x1="382.54" y1="309.8" x2="388.54" y2="309.8" stroke="#444" stroke-width="1.0" />
<line x1="382.54" y1="313.8" x2="388.54" y2="313.8" stroke="#444" stroke-width="1.0" />
<line x1="398.57" y1="300.6" x2="398.57" y2="305.6" stroke="#444" stroke-width="1.0" />
<line x1="395.57" y1="300.6" x2="401.57" y2="300.6" stroke="#444" stroke-width="1.0" />
<line x1="395.57" y1="305.6" x2="401.57" y2="305.6" stroke="#444" stroke-width="1.0" />
<line x1="411.6" y1="287.0" x2="411.6" y2="295.0" stroke="#444" stroke-width="1.0" />
<line x1="408.6" y1="287.0" x2="414.6" y2="287.0" stroke="#444" stroke-width="1.0" />
<line x1="408.6" y1="295.0" x2="414.6" y2="295.0" stroke="#444" stroke-width="1.0" />
<line x1="424.63" y1="278.6" x2="424.63" y2="286.6" stroke="#444" stroke-width="1.0" />
<line x1="421.63" y1="278.6" x2="427.63" y2="278.6" stroke="#444" stroke-width="1.0" />
<line x1="421.63" y1="286.6" x2="427.63" y2="286.6" stroke="#444" stroke-width="1.0" />
<line x1="437.65999999999997" y1="266.9" x2="437.65999999999997" y2="275.9" stroke="#444" stroke-width="1.0" />
<line x1="434.65999999999997" y1="266.9" x2="440.65999999999997" y2="266.9" stroke="#444" stroke-width="1.0" />
<line x1="434.65999999999997" y1="275.9" x2="440.65999999999997" y2="275.9" stroke="#444" stroke-width="1.0" />
<rect x="278.65" y="368.25" width="5.3" height="5.3" fill="#fff" stroke="#1a1a1a" stroke-width="1.3" />
<rect x="291.68" y="358.45" width="5.3" height="5.3" fill="#fff" stroke="#1a1a1a" stroke-width="1.3" />
<rect x="304.71" y="351.65" width="5.3" height="5.3" fill="#fff" stroke="#1a1a1a" stroke-width="1.3" />
<rect x="317.74" y="345.85" width="5.3" height="5.3" fill="#fff" stroke="#1a1a1a" stroke-width="1.3" />
<rect x="330.77" y="342.45" width="5.3" height="5.3" fill="#fff" stroke="#1a1a1a" stroke-width="1.3" />
<rect x="343.8" y="335.15" width="5.3" height="5.3" fill="#fff" stroke="#1a1a1a" stroke-width="1.3" />
<rect x="356.83" y="325.25" width="5.3" height="5.3" fill="#fff" stroke="#1a1a1a" stroke-width="1.3" />
<rect x="369.86" y="317.55" width="5.3" height="5.3" fill="#fff" stroke="#1a1a1a" stroke-width="1.3" />
<rect x="382.89" y="309.15" width="5.3" height="5.3" fill="#fff" stroke="#1a1a1a" stroke-width="1.3" />
<rect x="395.92" y="300.45" width="5.3" height="5.3" fill="#fff" stroke="#1a1a1a" stroke-width="1.3" />
<rect x="408.95" y="288.35" width="5.3" height="5.3" fill="#fff" stroke="#1a1a1a" stroke-width="1.3" />
<rect x="421.98" y="279.95" width="5.3" height="5.3" fill="#fff" stroke="#1a1a1a" stroke-width="1.3" />
<rect x="435.01" y="268.75" width="5.3" height="5.3" fill="#fff" stroke="#1a1a1a" stroke-width="1.3" />
<path d="M346.20 325.80 L346.20 331.60 M343.69 327.25 L348.71 330.15 M348.71 327.25 L343.69 330.15" fill="none" stroke="#3a3a3a" stroke-width="0.95" />
<path d="M355.95 316.90 L355.95 322.70 M353.44 318.35 L358.46 321.25 M358.46 318.35 L353.44 321.25 M363.05 316.90 L363.05 322.70 M360.54 318.35 L365.56 321.25 M365.56 318.35 L360.54 321.25" fill="none" stroke="#3a3a3a" stroke-width="0.95" />
<path d="M368.65 308.20 L368.65 314.00 M366.14 309.65 L371.16 312.55 M371.16 309.65 L366.14 312.55 M375.75 308.20 L375.75 314.00 M373.24 309.65 L378.26 312.55 M378.26 309.65 L373.24 312.55" fill="none" stroke="#3a3a3a" stroke-width="0.95" />
<path d="M377.00 299.30 L377.00 305.10 M374.49 300.75 L379.51 303.65 M379.51 300.75 L374.49 303.65 M384.10 299.30 L384.10 305.10 M381.59 300.75 L386.61 303.65 M386.61 300.75 L381.59 303.65 M391.20 299.30 L391.20 305.10 M388.69 300.75 L393.71 303.65 M393.71 300.75 L388.69 303.65" fill="none" stroke="#3a3a3a" stroke-width="0.95" />
<path d="M388.80 289.20 L388.80 295.00 M386.29 290.65 L391.31 293.55 M391.31 290.65 L386.29 293.55 M395.90 289.20 L395.90 295.00 M393.39 290.65 L398.41 293.55 M398.41 290.65 L393.39 293.55 M403.00 289.20 L403.00 295.00 M400.49 290.65 L405.51 293.55 M405.51 290.65 L400.49 293.55" fill="none" stroke="#3a3a3a" stroke-width="0.95" />
<path d="M402.10 279.00 L402.10 284.80 M399.59 280.45 L404.61 283.35 M404.61 280.45 L399.59 283.35 M409.20 279.00 L409.20 284.80 M406.69 280.45 L411.71 283.35 M411.71 280.45 L406.69 283.35 M416.30 279.00 L416.30 284.80 M413.79 280.45 L418.81 283.35 M418.81 280.45 L413.79 283.35" fill="none" stroke="#3a3a3a" stroke-width="0.95" />
<path d="M415.40 268.90 L415.40 274.70 M412.89 270.35 L417.91 273.25 M417.91 270.35 L412.89 273.25 M422.50 268.90 L422.50 274.70 M419.99 270.35 L425.01 273.25 M425.01 270.35 L419.99 273.25 M429.60 268.90 L429.60 274.70 M427.09 270.35 L432.11 273.25 M432.11 270.35 L427.09 273.25" fill="none" stroke="#3a3a3a" stroke-width="0.95" />
<path d="M430.50 258.10 L430.50 263.90 M427.99 259.55 L433.01 262.45 M433.01 259.55 L427.99 262.45 M437.60 258.10 L437.60 263.90 M435.09 259.55 L440.11 262.45 M440.11 259.55 L435.09 262.45 M444.70 258.10 L444.70 263.90 M442.19 259.55 L447.21 262.45 M447.21 259.55 L442.19 262.45" fill="none" stroke="#3a3a3a" stroke-width="0.95" />
<text x="452.5" y="216.4" font-size="20" text-anchor="start" font-weight="bold" fill="#000" >f</text>
<line x1="498.3" y1="372.0" x2="498.3" y2="233" stroke="#111" stroke-width="1.6" />
<line x1="492.3" y1="371.2" x2="498.3" y2="371.2" stroke="#111" stroke-width="1.6" />
<text x="490.6" y="376.2" font-size="12.4" text-anchor="end" font-weight="normal" fill="#111" >0</text>
<line x1="492.3" y1="336.65" x2="498.3" y2="336.65" stroke="#111" stroke-width="1.6" />
<text x="490.6" y="341.65" font-size="12.4" text-anchor="end" font-weight="normal" fill="#111" >1</text>
<line x1="492.3" y1="302.1" x2="498.3" y2="302.1" stroke="#111" stroke-width="1.6" />
<text x="490.6" y="307.1" font-size="12.4" text-anchor="end" font-weight="normal" fill="#111" >2</text>
<line x1="492.3" y1="267.55" x2="498.3" y2="267.55" stroke="#111" stroke-width="1.6" />
<text x="490.6" y="272.55" font-size="12.4" text-anchor="end" font-weight="normal" fill="#111" >3</text>
<line x1="492.3" y1="233.0" x2="498.3" y2="233.0" stroke="#111" stroke-width="1.6" />
<text x="490.6" y="238.0" font-size="12.4" text-anchor="end" font-weight="normal" fill="#111" >4</text>
<line x1="498.3" y1="371.2" x2="546.4" y2="371.2" stroke="#111" stroke-width="1.6" />
<text x="0" y="0" font-size="12" text-anchor="middle" fill="#111" transform="translate(472.5,305.2) rotate(-90)">Weight (g)</text>
<rect x="507.3" y="264.0" width="13.699999999999955" height="107.19999999999999" fill="#fff" stroke="#111" stroke-width="1.6" />
<rect x="522.4" y="326.0" width="13.9" height="45.19999999999999" fill="#ff6600" stroke="#111" stroke-width="1.6" />
<line x1="514" y1="264" x2="514" y2="256.7" stroke="#111" stroke-width="1.4" />
<line x1="510.35" y1="256.7" x2="517.65" y2="256.7" stroke="#111" stroke-width="1.4" />
<line x1="529.7" y1="326" x2="529.7" y2="319.8" stroke="#111" stroke-width="1.4" />
<line x1="525.8000000000001" y1="319.8" x2="533.6" y2="319.8" stroke="#111" stroke-width="1.4" />
<circle cx="508.8" cy="243.4" r="1.5" fill="#111" stroke="none" stroke-width="1" />
<circle cx="513.6" cy="245" r="1.5" fill="#111" stroke="none" stroke-width="1" />
<circle cx="518.7" cy="245.2" r="1.5" fill="#111" stroke="none" stroke-width="1" />
<circle cx="513.6" cy="251.1" r="1.5" fill="#111" stroke="none" stroke-width="1" />
<circle cx="511.6" cy="257.3" r="1.5" fill="#111" stroke="none" stroke-width="1" />
<circle cx="515.4" cy="258.9" r="1.5" fill="#111" stroke="none" stroke-width="1" />
<circle cx="513.6" cy="283.9" r="1.5" fill="#111" stroke="none" stroke-width="1" />
<circle cx="511.4" cy="291.4" r="1.5" fill="#111" stroke="none" stroke-width="1" />
<circle cx="516.1" cy="294.3" r="1.5" fill="#111" stroke="none" stroke-width="1" />
<circle cx="525.8" cy="303.2" r="1.5" fill="#111" stroke="none" stroke-width="1" />
<circle cx="533.6" cy="306.1" r="1.5" fill="#111" stroke="none" stroke-width="1" />
<circle cx="533.6" cy="318.7" r="1.5" fill="#111" stroke="none" stroke-width="1" />
<circle cx="525.4" cy="320.5" r="1.5" fill="#111" stroke="none" stroke-width="1" />
<circle cx="525.8" cy="335.7" r="1.5" fill="#111" stroke="none" stroke-width="1" />
<circle cx="529.8" cy="334.8" r="1.5" fill="#111" stroke="none" stroke-width="1" />
<circle cx="533.6" cy="339.1" r="1.5" fill="#111" stroke="none" stroke-width="1" />
<circle cx="529.8" cy="349.7" r="1.5" fill="#111" stroke="none" stroke-width="1" />
<path d="M525.30 289.90 L525.30 295.70 M522.79 291.35 L527.81 294.25 M527.81 291.35 L522.79 294.25 M532.40 289.90 L532.40 295.70 M529.89 291.35 L534.91 294.25 M534.91 291.35 L529.89 294.25 M539.50 289.90 L539.50 295.70 M536.99 291.35 L542.01 294.25 M542.01 291.35 L536.99 294.25" fill="none" stroke="#3a3a3a" stroke-width="0.95" />
<text x="523.1" y="386.5" font-size="12" text-anchor="middle" font-weight="normal" fill="#111" >iWAT</text>
<text x="558.5" y="215.5" font-size="20" text-anchor="start" font-weight="bold" fill="#000" >g</text>
<line x1="615.9" y1="370.90000000000003" x2="615.9" y2="231.7" stroke="#111" stroke-width="1.6" />
<line x1="609.9" y1="370.1" x2="615.9" y2="370.1" stroke="#111" stroke-width="1.6" />
<text x="606.3" y="375.1" font-size="12.4" text-anchor="end" font-weight="normal" fill="#111" >0</text>
<line x1="609.9" y1="342.42" x2="615.9" y2="342.42" stroke="#111" stroke-width="1.6" />
<text x="606.3" y="347.42" font-size="12.4" text-anchor="end" font-weight="normal" fill="#111" >0.5</text>
<line x1="609.9" y1="314.74" x2="615.9" y2="314.74" stroke="#111" stroke-width="1.6" />
<text x="606.3" y="319.74" font-size="12.4" text-anchor="end" font-weight="normal" fill="#111" >1.0</text>
<line x1="609.9" y1="287.06000000000006" x2="615.9" y2="287.06000000000006" stroke="#111" stroke-width="1.6" />
<text x="606.3" y="292.06000000000006" font-size="12.4" text-anchor="end" font-weight="normal" fill="#111" >1.5</text>
<line x1="609.9" y1="259.38" x2="615.9" y2="259.38" stroke="#111" stroke-width="1.6" />
<text x="606.3" y="264.38" font-size="12.4" text-anchor="end" font-weight="normal" fill="#111" >2.0</text>
<line x1="609.9" y1="231.70000000000002" x2="615.9" y2="231.70000000000002" stroke="#111" stroke-width="1.6" />
<text x="606.3" y="236.70000000000002" font-size="12.4" text-anchor="end" font-weight="normal" fill="#111" >2.5</text>
<line x1="615.9" y1="370.1" x2="664.6" y2="370.1" stroke="#111" stroke-width="1.6" />
<text x="0" y="0" font-size="12" text-anchor="middle" fill="#111" transform="translate(583.5,302.1) rotate(-90)">Food intake per day (g)</text>
<rect x="624.9" y="256.0" width="14.099999999999932" height="114.10000000000002" fill="#fff" stroke="#111" stroke-width="1.6" />
<rect x="640.4" y="262.7" width="14.599999999999932" height="107.40000000000003" fill="#ff6600" stroke="#111" stroke-width="1.6" />
<line x1="631.7" y1="256" x2="631.7" y2="250" stroke="#111" stroke-width="1.4" />
<line x1="628.1500000000001" y1="250" x2="635.25" y2="250" stroke="#111" stroke-width="1.4" />
<line x1="647.8" y1="262.7" x2="647.8" y2="257.8" stroke="#111" stroke-width="1.4" />
<line x1="643.5999999999999" y1="257.8" x2="652.0" y2="257.8" stroke="#111" stroke-width="1.4" />
<circle cx="629.8" cy="233" r="1.5" fill="#111" stroke="none" stroke-width="1" />
<circle cx="634.3" cy="235" r="1.5" fill="#111" stroke="none" stroke-width="1" />
<circle cx="632.1" cy="241.2" r="1.5" fill="#111" stroke="none" stroke-width="1" />
<circle cx="629.8" cy="256" r="1.5" fill="#111" stroke="none" stroke-width="1" />
<circle cx="635.8" cy="256" r="1.5" fill="#111" stroke="none" stroke-width="1" />
<circle cx="632.1" cy="268.4" r="1.5" fill="#111" stroke="none" stroke-width="1" />
<circle cx="632.1" cy="273.3" r="1.5" fill="#111" stroke="none" stroke-width="1" />
<circle cx="632.1" cy="278.8" r="1.5" fill="#111" stroke="none" stroke-width="1" />
<circle cx="647.6" cy="242.3" r="1.5" fill="#111" stroke="none" stroke-width="1" />
<circle cx="647.6" cy="247.8" r="1.5" fill="#111" stroke="none" stroke-width="1" />
<circle cx="647.6" cy="252.9" r="1.5" fill="#111" stroke="none" stroke-width="1" />
<circle cx="643.1" cy="263.3" r="1.5" fill="#111" stroke="none" stroke-width="1" />
<circle cx="647.6" cy="264" r="1.5" fill="#111" stroke="none" stroke-width="1" />
<circle cx="652.4" cy="269.3" r="1.5" fill="#111" stroke="none" stroke-width="1" />
<circle cx="643.6" cy="269.3" r="1.5" fill="#111" stroke="none" stroke-width="1" />
<circle cx="647.6" cy="287.7" r="1.5" fill="#111" stroke="none" stroke-width="1" />
<text x="0" y="427.8" font-size="20" text-anchor="start" font-weight="bold" fill="#000" >h</text>
<line x1="47.5" y1="587.1999999999999" x2="47.5" y2="451" stroke="#111" stroke-width="1.6" />
<line x1="41.5" y1="586.4" x2="47.5" y2="586.4" stroke="#111" stroke-width="1.6" />
<text x="39.8" y="591.4" font-size="12.4" text-anchor="end" font-weight="normal" fill="#111" >80</text>
<line x1="41.5" y1="559.25" x2="47.5" y2="559.25" stroke="#111" stroke-width="1.6" />
<text x="39.8" y="564.25" font-size="12.4" text-anchor="end" font-weight="normal" fill="#111" >100</text>
<line x1="41.5" y1="532.1" x2="47.5" y2="532.1" stroke="#111" stroke-width="1.6" />
<text x="39.8" y="537.1" font-size="12.4" text-anchor="end" font-weight="normal" fill="#111" >120</text>
<line x1="41.5" y1="504.95" x2="47.5" y2="504.95" stroke="#111" stroke-width="1.6" />
<text x="39.8" y="509.95" font-size="12.4" text-anchor="end" font-weight="normal" fill="#111" >140</text>
<line x1="41.5" y1="477.79999999999995" x2="47.5" y2="477.79999999999995" stroke="#111" stroke-width="1.6" />
<text x="39.8" y="482.79999999999995" font-size="12.4" text-anchor="end" font-weight="normal" fill="#111" >160</text>
<line x1="41.5" y1="450.65" x2="47.5" y2="450.65" stroke="#111" stroke-width="1.6" />
<text x="39.8" y="455.65" font-size="12.4" text-anchor="end" font-weight="normal" fill="#111" >180</text>
<line x1="47.5" y1="586.4" x2="47.5" y2="592.4" stroke="#111" stroke-width="1.6" />
<text x="47.5" y="604" font-size="12.4" text-anchor="middle" font-weight="normal" fill="#111" >20</text>
<line x1="85.15" y1="586.4" x2="85.15" y2="592.4" stroke="#111" stroke-width="1.6" />
<text x="85.15" y="604" font-size="12.4" text-anchor="middle" font-weight="normal" fill="#111" >30</text>
<line x1="122.8" y1="586.4" x2="122.8" y2="592.4" stroke="#111" stroke-width="1.6" />
<text x="122.8" y="604" font-size="12.4" text-anchor="middle" font-weight="normal" fill="#111" >40</text>
<line x1="160.45" y1="586.4" x2="160.45" y2="592.4" stroke="#111" stroke-width="1.6" />
<text x="160.45" y="604" font-size="12.4" text-anchor="middle" font-weight="normal" fill="#111" >50</text>
<line x1="47.5" y1="586.4" x2="160.2" y2="586.4" stroke="#111" stroke-width="1.6" />
<text x="0" y="0" font-size="12" text-anchor="middle" fill="#111" transform="translate(16,517.8) rotate(-90)">mL/h</text>
<text x="98" y="452.9" font-size="12" text-anchor="start" font-weight="normal" fill="#111" >VO<tspan font-size="8" dy="3">2</tspan></text>
<text x="103.6" y="561.1" font-size="12" text-anchor="start" font-weight="normal" fill="#111" >ANCOVA</text>
<text x="103.6" y="576.7" font-size="12" text-anchor="start" font-weight="normal" fill="#111" ><tspan font-style="italic">P</tspan> = 0.022</text>
<line x1="69.9" y1="541.3" x2="110.4" y2="501.6" stroke="#f26522" stroke-width="1.4" />
<circle cx="69.9" cy="545.9" r="2.2" fill="#f26522" stroke="none" stroke-width="1" />
<circle cx="75.9" cy="548.6" r="2.2" fill="#f26522" stroke="none" stroke-width="1" />
<circle cx="83.9" cy="531" r="2.2" fill="#f26522" stroke="none" stroke-width="1" />
<circle cx="84.3" cy="510.5" r="2.2" fill="#f26522" stroke="none" stroke-width="1" />
<circle cx="95.7" cy="497.2" r="2.2" fill="#f26522" stroke="none" stroke-width="1" />
<circle cx="102.9" cy="504.5" r="2.2" fill="#f26522" stroke="none" stroke-width="1" />
<circle cx="100" cy="524.5" r="2.2" fill="#f26522" stroke="none" stroke-width="1" />
<circle cx="111.3" cy="511.7" r="2.2" fill="#f26522" stroke="none" stroke-width="1" />
<line x1="116.1" y1="534.1" x2="145.8" y2="493.6" stroke="#111" stroke-width="1.4" />
<circle cx="115.7" cy="533.4" r="2.4" fill="#fff" stroke="#111" stroke-width="1.4" />
<circle cx="118.1" cy="536.5" r="2.4" fill="#fff" stroke="#111" stroke-width="1.4" />
<circle cx="120.5" cy="535.3" r="2.4" fill="#fff" stroke="#111" stroke-width="1.4" />
<circle cx="125.3" cy="525.7" r="2.4" fill="#fff" stroke="#111" stroke-width="1.4" />
<circle cx="133.7" cy="523.3" r="2.4" fill="#fff" stroke="#111" stroke-width="1.4" />
<circle cx="142.2" cy="494.3" r="2.4" fill="#fff" stroke="#111" stroke-width="1.4" />
<circle cx="147.7" cy="492.4" r="2.4" fill="#fff" stroke="#111" stroke-width="1.4" />
<circle cx="125.3" cy="481.8" r="2.4" fill="#fff" stroke="#111" stroke-width="1.4" />
<text x="177.5" y="427" font-size="20" text-anchor="start" font-weight="bold" fill="#000" >i</text>
<line x1="218.1" y1="586.0" x2="218.1" y2="449.8" stroke="#111" stroke-width="1.6" />
<line x1="212.1" y1="585.2" x2="218.1" y2="585.2" stroke="#111" stroke-width="1.6" />
<text x="209.1" y="590.2" font-size="12.4" text-anchor="end" font-weight="normal" fill="#111" >0.3</text>
<line x1="212.1" y1="562.6500000000001" x2="218.1" y2="562.6500000000001" stroke="#111" stroke-width="1.6" />
<text x="209.1" y="567.6500000000001" font-size="12.4" text-anchor="end" font-weight="normal" fill="#111" >0.4</text>
<line x1="212.1" y1="540.1" x2="218.1" y2="540.1" stroke="#111" stroke-width="1.6" />
<text x="209.1" y="545.1" font-size="12.4" text-anchor="end" font-weight="normal" fill="#111" >0.5</text>
<line x1="212.1" y1="517.5500000000001" x2="218.1" y2="517.5500000000001" stroke="#111" stroke-width="1.6" />
<text x="209.1" y="522.5500000000001" font-size="12.4" text-anchor="end" font-weight="normal" fill="#111" >0.6</text>
<line x1="212.1" y1="495.00000000000006" x2="218.1" y2="495.00000000000006" stroke="#111" stroke-width="1.6" />
<text x="209.1" y="500.00000000000006" font-size="12.4" text-anchor="end" font-weight="normal" fill="#111" >0.7</text>
<line x1="212.1" y1="472.45000000000005" x2="218.1" y2="472.45000000000005" stroke="#111" stroke-width="1.6" />
<text x="209.1" y="477.45000000000005" font-size="12.4" text-anchor="end" font-weight="normal" fill="#111" >0.8</text>
<line x1="212.1" y1="449.90000000000003" x2="218.1" y2="449.90000000000003" stroke="#111" stroke-width="1.6" />
<text x="209.1" y="454.90000000000003" font-size="12.4" text-anchor="end" font-weight="normal" fill="#111" >0.9</text>
<line x1="218.1" y1="585.2" x2="218.1" y2="591.2" stroke="#111" stroke-width="1.6" />
<text x="218.1" y="604" font-size="12.4" text-anchor="middle" font-weight="normal" fill="#111" >20</text>
<line x1="255.87" y1="585.2" x2="255.87" y2="591.2" stroke="#111" stroke-width="1.6" />
<text x="255.87" y="604" font-size="12.4" text-anchor="middle" font-weight="normal" fill="#111" >30</text>
<line x1="293.64" y1="585.2" x2="293.64" y2="591.2" stroke="#111" stroke-width="1.6" />
<text x="293.64" y="604" font-size="12.4" text-anchor="middle" font-weight="normal" fill="#111" >40</text>
<line x1="331.40999999999997" y1="585.2" x2="331.40999999999997" y2="591.2" stroke="#111" stroke-width="1.6" />
<text x="331.40999999999997" y="604" font-size="12.4" text-anchor="middle" font-weight="normal" fill="#111" >50</text>
<line x1="218.1" y1="585.2" x2="331.4" y2="585.2" stroke="#111" stroke-width="1.6" />
<text x="0" y="0" font-size="12" text-anchor="middle" fill="#111" transform="translate(187.5,516.8) rotate(-90)">kcal/h</text>
<text x="270.7" y="451.2" font-size="12" text-anchor="start" font-weight="normal" fill="#111" >EE</text>
<text x="275.8" y="561" font-size="12" text-anchor="start" font-weight="normal" fill="#111" >ANCOVA</text>
<text x="275.8" y="576.7" font-size="12" text-anchor="start" font-weight="normal" fill="#111" ><tspan font-style="italic">P</tspan> = 0.035</text>
<line x1="241.2" y1="531.6" x2="281.6" y2="501.2" stroke="#f26522" stroke-width="1.4" />
<circle cx="240.7" cy="534.6" r="2.2" fill="#f26522" stroke="none" stroke-width="1" />
<circle cx="246.6" cy="537.7" r="2.2" fill="#f26522" stroke="none" stroke-width="1" />
<circle cx="254.8" cy="505.9" r="2.2" fill="#f26522" stroke="none" stroke-width="1" />
<circle cx="254.8" cy="525.7" r="2.2" fill="#f26522" stroke="none" stroke-width="1" />
<circle cx="266.4" cy="495.6" r="2.2" fill="#f26522" stroke="none" stroke-width="1" />
<circle cx="273.5" cy="501.9" r="2.2" fill="#f26522" stroke="none" stroke-width="1" />
<circle cx="270.7" cy="519.4" r="2.2" fill="#f26522" stroke="none" stroke-width="1" />
<circle cx="282.1" cy="510.1" r="2.2" fill="#f26522" stroke="none" stroke-width="1" />
<line x1="287" y1="521.8" x2="317.9" y2="494.2" stroke="#111" stroke-width="1.4" />
<circle cx="296.1" cy="485.6" r="2.4" fill="#fff" stroke="#111" stroke-width="1.4" />
<circle cx="312.7" cy="495.6" r="2.4" fill="#fff" stroke="#111" stroke-width="1.4" />
<circle cx="319" cy="492.6" r="2.4" fill="#fff" stroke="#111" stroke-width="1.4" />
<circle cx="305" cy="517.1" r="2.4" fill="#fff" stroke="#111" stroke-width="1.4" />
<circle cx="296.4" cy="518.3" r="2.4" fill="#fff" stroke="#111" stroke-width="1.4" />
<circle cx="286.8" cy="522.9" r="2.4" fill="#fff" stroke="#111" stroke-width="1.4" />
<circle cx="288.6" cy="527.6" r="2.4" fill="#fff" stroke="#111" stroke-width="1.4" />
<circle cx="291.4" cy="526.9" r="2.4" fill="#fff" stroke="#111" stroke-width="1.4" />
<text x="65.3" y="619" font-size="12" text-anchor="start" font-weight="normal" fill="#111" >Body weight (g)</text>
<text x="236.3" y="619" font-size="12" text-anchor="start" font-weight="normal" fill="#111" >Body weight (g)</text>
<line x1="282.4" y1="417.6" x2="296.9" y2="417.6" stroke="#111" stroke-width="1.2" />
<circle cx="289.9" cy="417.6" r="2.7" fill="#fff" stroke="#111" stroke-width="1.3" />
<line x1="282.4" y1="429.4" x2="296.9" y2="429.4" stroke="#f26522" stroke-width="1.4" />
<circle cx="289.9" cy="429.4" r="3.3" fill="#f26522" stroke="none" stroke-width="1" />
<text x="300.8" y="421.6" font-size="12" text-anchor="start" font-weight="normal" fill="#111" >HFD 0.9% NaCl</text>
<text x="300.8" y="433.2" font-size="12" text-anchor="start" font-weight="normal" fill="#111" >HFD 0.6mg/kg Pento</text>
<line x1="409.3" y1="587.1999999999999" x2="409.3" y2="451.1" stroke="#111" stroke-width="1.6" />
<line x1="403.3" y1="586.4" x2="409.3" y2="586.4" stroke="#111" stroke-width="1.6" />
<text x="399.2" y="591.4" font-size="12.4" text-anchor="end" font-weight="normal" fill="#111" >0.3</text>
<line x1="403.3" y1="563.85" x2="409.3" y2="563.85" stroke="#111" stroke-width="1.6" />
<text x="399.2" y="568.85" font-size="12.4" text-anchor="end" font-weight="normal" fill="#111" >0.4</text>
<line x1="403.3" y1="541.3" x2="409.3" y2="541.3" stroke="#111" stroke-width="1.6" />
<text x="399.2" y="546.3" font-size="12.4" text-anchor="end" font-weight="normal" fill="#111" >0.5</text>
<line x1="403.3" y1="518.75" x2="409.3" y2="518.75" stroke="#111" stroke-width="1.6" />
<text x="399.2" y="523.75" font-size="12.4" text-anchor="end" font-weight="normal" fill="#111" >0.6</text>
<line x1="403.3" y1="496.2" x2="409.3" y2="496.2" stroke="#111" stroke-width="1.6" />
<text x="399.2" y="501.2" font-size="12.4" text-anchor="end" font-weight="normal" fill="#111" >0.7</text>
<line x1="403.3" y1="473.65" x2="409.3" y2="473.65" stroke="#111" stroke-width="1.6" />
<text x="399.2" y="478.65" font-size="12.4" text-anchor="end" font-weight="normal" fill="#111" >0.8</text>
<line x1="403.3" y1="451.09999999999997" x2="409.3" y2="451.09999999999997" stroke="#111" stroke-width="1.6" />
<text x="399.2" y="456.09999999999997" font-size="12.4" text-anchor="end" font-weight="normal" fill="#111" >0.9</text>
<line x1="409.3" y1="586.4" x2="452.5" y2="586.4" stroke="#111" stroke-width="1.6" />
<text x="0" y="0" font-size="12" text-anchor="middle" fill="#111" transform="translate(360.5,519.4) rotate(-90)">Predicted MR</text>
<text x="0" y="0" font-size="12" text-anchor="middle" fill="#111" transform="translate(376,517.3) rotate(-90)">(kcal h<tspan font-size="8" dy="-4">-1</tspan><tspan dy="4">40 g</tspan><tspan font-size="8" dy="-4">-1</tspan><tspan dy="4">)</tspan></text>
<rect x="416.90000000000003" y="518.9" width="12.699999999999955" height="67.5" fill="#fff" stroke="#111" stroke-width="1.6" />
<rect x="431.0" y="493.5" width="12.9" height="92.89999999999998" fill="#ff6600" stroke="#111" stroke-width="1.6" />
<line x1="422.9" y1="518.9" x2="422.9" y2="514" stroke="#111" stroke-width="1.4" />
<line x1="419.0" y1="514" x2="426.79999999999995" y2="514" stroke="#111" stroke-width="1.4" />
<line x1="437.5" y1="493.5" x2="437.5" y2="487.7" stroke="#111" stroke-width="1.4" />
<line x1="433.6" y1="487.7" x2="441.4" y2="487.7" stroke="#111" stroke-width="1.4" />
<circle cx="422.9" cy="489.6" r="1.5" fill="#111" stroke="none" stroke-width="1" />
<circle cx="417.4" cy="522.7" r="1.5" fill="#111" stroke="none" stroke-width="1" />
<circle cx="421.9" cy="517.9" r="1.5" fill="#111" stroke="none" stroke-width="1" />
<circle cx="428.7" cy="519.8" r="1.5" fill="#111" stroke="none" stroke-width="1" />
<circle cx="418.6" cy="525.1" r="1.5" fill="#111" stroke="none" stroke-width="1" />
<circle cx="422.9" cy="525.3" r="1.5" fill="#111" stroke="none" stroke-width="1" />
<circle cx="427.7" cy="525.7" r="1.5" fill="#111" stroke="none" stroke-width="1" />
<circle cx="422.9" cy="530.5" r="1.5" fill="#111" stroke="none" stroke-width="1" />
<circle cx="435" cy="476" r="1.5" fill="#111" stroke="none" stroke-width="1" />
<circle cx="439.8" cy="478.6" r="1.5" fill="#111" stroke="none" stroke-width="1" />
<circle cx="438.1" cy="487.1" r="1.5" fill="#111" stroke="none" stroke-width="1" />
<circle cx="438.1" cy="491" r="1.5" fill="#111" stroke="none" stroke-width="1" />
<circle cx="433.6" cy="495.5" r="1.5" fill="#111" stroke="none" stroke-width="1" />
<circle cx="434.6" cy="503.3" r="1.5" fill="#111" stroke="none" stroke-width="1" />
<circle cx="438.5" cy="503.3" r="1.5" fill="#111" stroke="none" stroke-width="1" />
<circle cx="442.4" cy="503.3" r="1.5" fill="#111" stroke="none" stroke-width="1" />
<circle cx="431.6" cy="503.3" r="1.5" fill="#111" stroke="none" stroke-width="1" />
<path d="M433.95 464.40 L433.95 470.20 M431.44 465.85 L436.46 468.75 M436.46 465.85 L431.44 468.75 M441.05 464.40 L441.05 470.20 M438.54 465.85 L443.56 468.75 M443.56 465.85 L438.54 468.75" fill="none" stroke="#3a3a3a" stroke-width="0.95" />
<text x="451" y="427" font-size="20" text-anchor="start" font-weight="bold" fill="#000" >j</text>
<rect x="509.3" y="413.5" width="7.4" height="7.5" fill="#fff" stroke="#111" stroke-width="1.2" />
<rect x="509.3" y="425.2" width="7.4" height="7.5" fill="#ff6600" stroke="#111" stroke-width="1.2" />
<text x="520.2" y="421.6" font-size="12" text-anchor="start" font-weight="normal" fill="#111" >HFD 0.9% NaCl</text>
<text x="520.2" y="433.3" font-size="12" text-anchor="start" font-weight="normal" fill="#111" >HFD 0.6mg/kg Pento</text>
<rect x="598.2" y="453.2" width="86.8" height="150.8" fill="#efefef" stroke="none" stroke-width="1.5" />
<line x1="508.4" y1="587.15" x2="508.4" y2="450.6" stroke="#111" stroke-width="1.3" />
<line x1="504.59999999999997" y1="586.5" x2="508.4" y2="586.5" stroke="#111" stroke-width="1.3" />
<text x="501.7" y="591.5" font-size="11.9" text-anchor="end" font-weight="normal" fill="#111" >0</text>
<line x1="504.59999999999997" y1="541.2" x2="508.4" y2="541.2" stroke="#111" stroke-width="1.3" />
<text x="501.7" y="546.2" font-size="11.9" text-anchor="end" font-weight="normal" fill="#111" >1500</text>
<line x1="504.59999999999997" y1="495.9" x2="508.4" y2="495.9" stroke="#111" stroke-width="1.3" />
<text x="501.7" y="500.9" font-size="11.9" text-anchor="end" font-weight="normal" fill="#111" >3000</text>
<line x1="504.59999999999997" y1="450.6" x2="508.4" y2="450.6" stroke="#111" stroke-width="1.3" />
<text x="501.7" y="455.6" font-size="11.9" text-anchor="end" font-weight="normal" fill="#111" >4500</text>
<line x1="508" y1="586.5" x2="685" y2="586.5" stroke="#111" stroke-width="1.5" />
<line x1="508.3" y1="586.5" x2="508.3" y2="589.5" stroke="#111" stroke-width="0.9" />
<line x1="512.3" y1="586.5" x2="512.3" y2="589.5" stroke="#111" stroke-width="0.9" />
<line x1="516.3" y1="586.5" x2="516.3" y2="589.5" stroke="#111" stroke-width="0.9" />
<line x1="520.3" y1="586.5" x2="520.3" y2="589.5" stroke="#111" stroke-width="0.9" />
<line x1="524.3" y1="586.5" x2="524.3" y2="589.5" stroke="#111" stroke-width="0.9" />
<line x1="528.3" y1="586.5" x2="528.3" y2="589.5" stroke="#111" stroke-width="0.9" />
<line x1="532.3" y1="586.5" x2="532.3" y2="589.5" stroke="#111" stroke-width="0.9" />
<line x1="536.3" y1="586.5" x2="536.3" y2="589.5" stroke="#111" stroke-width="0.9" />
<line x1="540.3" y1="586.5" x2="540.3" y2="589.5" stroke="#111" stroke-width="0.9" />
<line x1="544.3" y1="586.5" x2="544.3" y2="589.5" stroke="#111" stroke-width="0.9" />
<line x1="548.3" y1="586.5" x2="548.3" y2="589.5" stroke="#111" stroke-width="0.9" />
<line x1="552.3" y1="586.5" x2="552.3" y2="589.5" stroke="#111" stroke-width="0.9" />
<line x1="556.3" y1="586.5" x2="556.3" y2="589.5" stroke="#111" stroke-width="0.9" />
<line x1="560.3" y1="586.5" x2="560.3" y2="589.5" stroke="#111" stroke-width="0.9" />
<line x1="564.3" y1="586.5" x2="564.3" y2="589.5" stroke="#111" stroke-width="0.9" />
<line x1="568.3" y1="586.5" x2="568.3" y2="589.5" stroke="#111" stroke-width="0.9" />
<line x1="572.3" y1="586.5" x2="572.3" y2="589.5" stroke="#111" stroke-width="0.9" />
<line x1="576.3" y1="586.5" x2="576.3" y2="589.5" stroke="#111" stroke-width="0.9" />
<line x1="580.3" y1="586.5" x2="580.3" y2="589.5" stroke="#111" stroke-width="0.9" />
<line x1="584.3" y1="586.5" x2="584.3" y2="589.5" stroke="#111" stroke-width="0.9" />
<line x1="588.3" y1="586.5" x2="588.3" y2="589.5" stroke="#111" stroke-width="0.9" />
<line x1="592.3" y1="586.5" x2="592.3" y2="589.5" stroke="#111" stroke-width="0.9" />
<line x1="596.3" y1="586.5" x2="596.3" y2="589.5" stroke="#111" stroke-width="0.9" />
<line x1="600.3" y1="586.5" x2="600.3" y2="589.5" stroke="#111" stroke-width="0.9" />
<line x1="604.3" y1="586.5" x2="604.3" y2="589.5" stroke="#111" stroke-width="0.9" />
<line x1="608.3" y1="586.5" x2="608.3" y2="589.5" stroke="#111" stroke-width="0.9" />
<line x1="612.3" y1="586.5" x2="612.3" y2="589.5" stroke="#111" stroke-width="0.9" />
<line x1="616.3" y1="586.5" x2="616.3" y2="589.5" stroke="#111" stroke-width="0.9" />
<line x1="620.3" y1="586.5" x2="620.3" y2="589.5" stroke="#111" stroke-width="0.9" />
<line x1="624.3" y1="586.5" x2="624.3" y2="589.5" stroke="#111" stroke-width="0.9" />
<line x1="628.3" y1="586.5" x2="628.3" y2="589.5" stroke="#111" stroke-width="0.9" />
<line x1="632.3" y1="586.5" x2="632.3" y2="589.5" stroke="#111" stroke-width="0.9" />
<line x1="636.3" y1="586.5" x2="636.3" y2="589.5" stroke="#111" stroke-width="0.9" />
<line x1="640.3" y1="586.5" x2="640.3" y2="589.5" stroke="#111" stroke-width="0.9" />
<line x1="644.3" y1="586.5" x2="644.3" y2="589.5" stroke="#111" stroke-width="0.9" />
<line x1="648.3" y1="586.5" x2="648.3" y2="589.5" stroke="#111" stroke-width="0.9" />
<line x1="652.3" y1="586.5" x2="652.3" y2="589.5" stroke="#111" stroke-width="0.9" />
<line x1="656.3" y1="586.5" x2="656.3" y2="589.5" stroke="#111" stroke-width="0.9" />
<line x1="660.3" y1="586.5" x2="660.3" y2="589.5" stroke="#111" stroke-width="0.9" />
<line x1="664.3" y1="586.5" x2="664.3" y2="589.5" stroke="#111" stroke-width="0.9" />
<line x1="668.3" y1="586.5" x2="668.3" y2="589.5" stroke="#111" stroke-width="0.9" />
<line x1="672.3" y1="586.5" x2="672.3" y2="589.5" stroke="#111" stroke-width="0.9" />
<line x1="676.3" y1="586.5" x2="676.3" y2="589.5" stroke="#111" stroke-width="0.9" />
<line x1="680.3" y1="586.5" x2="680.3" y2="589.5" stroke="#111" stroke-width="0.9" />
<line x1="684.3" y1="586.5" x2="684.3" y2="589.5" stroke="#111" stroke-width="0.9" />
<line x1="598.2" y1="453.2" x2="598.2" y2="604" stroke="#333" stroke-width="1.1" stroke-dasharray="3 2.2"/>
<line x1="683.6" y1="453.2" x2="683.6" y2="604" stroke="#333" stroke-width="1.1" stroke-dasharray="3 2.2"/>
<text x="0" y="0" font-size="12" text-anchor="middle" fill="#111" transform="translate(469.5,517.6) rotate(-90)">Locomotor activity</text>
<text x="542.5" y="602.4" font-size="12" text-anchor="start" font-weight="normal" fill="#111" >Day</text>
<text x="627.8" y="602.6" font-size="12" text-anchor="start" font-weight="normal" fill="#111" >Night</text>
<line x1="510.2" y1="572.6" x2="510.2" y2="567.7421768645406" stroke="#222" stroke-width="1.0" />
<line x1="507.59999999999997" y1="567.7421768645406" x2="512.8" y2="567.7421768645406" stroke="#222" stroke-width="1.0" />
<line x1="514.17" y1="560.2" x2="514.17" y2="552.3228538735203" stroke="#222" stroke-width="1.0" />
<line x1="511.56999999999994" y1="552.3228538735203" x2="516.77" y2="552.3228538735203" stroke="#222" stroke-width="1.0" />
<line x1="518.14" y1="567.8" x2="518.14" y2="561.7062241672595" stroke="#222" stroke-width="1.0" />
<line x1="515.54" y1="561.7062241672595" x2="520.74" y2="561.7062241672595" stroke="#222" stroke-width="1.0" />
<line x1="522.11" y1="574.4" x2="522.11" y2="567.928399807019" stroke="#222" stroke-width="1.0" />
<line x1="519.51" y1="567.928399807019" x2="524.71" y2="567.928399807019" stroke="#222" stroke-width="1.0" />
<line x1="526.08" y1="581" x2="526.08" y2="575.2113984794597" stroke="#222" stroke-width="1.0" />
<line x1="523.48" y1="575.2113984794597" x2="528.6800000000001" y2="575.2113984794597" stroke="#222" stroke-width="1.0" />
<line x1="530.05" y1="562" x2="530.05" y2="556.732355703801" stroke="#222" stroke-width="1.0" />
<line x1="527.4499999999999" y1="556.732355703801" x2="532.65" y2="556.732355703801" stroke="#222" stroke-width="1.0" />
<line x1="534.02" y1="566" x2="534.02" y2="561.4741600422257" stroke="#222" stroke-width="1.0" />
<line x1="531.42" y1="561.4741600422257" x2="536.62" y2="561.4741600422257" stroke="#222" stroke-width="1.0" />
<line x1="537.99" y1="578.8" x2="537.99" y2="571.6886545895177" stroke="#222" stroke-width="1.0" />
<line x1="535.39" y1="571.6886545895177" x2="540.59" y2="571.6886545895177" stroke="#222" stroke-width="1.0" />
<line x1="541.96" y1="579.2" x2="541.96" y2="575.02722992836" stroke="#222" stroke-width="1.0" />
<line x1="539.36" y1="575.02722992836" x2="544.5600000000001" y2="575.02722992836" stroke="#222" stroke-width="1.0" />
<line x1="545.93" y1="560.5" x2="545.93" y2="554.2083451947665" stroke="#222" stroke-width="1.0" />
<line x1="543.3299999999999" y1="554.2083451947665" x2="548.53" y2="554.2083451947665" stroke="#222" stroke-width="1.0" />
<line x1="549.9" y1="567.5" x2="549.9" y2="558.2417758224477" stroke="#222" stroke-width="1.0" />
<line x1="547.3" y1="558.2417758224477" x2="552.5" y2="558.2417758224477" stroke="#222" stroke-width="1.0" />
<line x1="553.87" y1="562.3" x2="553.87" y2="555.0446824623878" stroke="#222" stroke-width="1.0" />
<line x1="551.27" y1="555.0446824623878" x2="556.47" y2="555.0446824623878" stroke="#222" stroke-width="1.0" />
<line x1="557.84" y1="572.3" x2="557.84" y2="564.413692743628" stroke="#222" stroke-width="1.0" />
<line x1="555.24" y1="564.413692743628" x2="560.44" y2="564.413692743628" stroke="#222" stroke-width="1.0" />
<line x1="561.81" y1="567.1" x2="561.81" y2="560.3902339565034" stroke="#222" stroke-width="1.0" />
<line x1="559.2099999999999" y1="560.3902339565034" x2="564.41" y2="560.3902339565034" stroke="#222" stroke-width="1.0" />
<line x1="565.78" y1="568.3" x2="565.78" y2="560.9206592972791" stroke="#222" stroke-width="1.0" />
<line x1="563.18" y1="560.9206592972791" x2="568.38" y2="560.9206592972791" stroke="#222" stroke-width="1.0" />
<line x1="569.75" y1="573.2" x2="569.75" y2="568.8509178798824" stroke="#222" stroke-width="1.0" />
<line x1="567.15" y1="568.8509178798824" x2="572.35" y2="568.8509178798824" stroke="#222" stroke-width="1.0" />
<line x1="573.72" y1="558.3" x2="573.72" y2="549.741696708574" stroke="#222" stroke-width="1.0" />
<line x1="571.12" y1="549.741696708574" x2="576.32" y2="549.741696708574" stroke="#222" stroke-width="1.0" />
<line x1="577.69" y1="571.1" x2="577.69" y2="562.9117734642836" stroke="#222" stroke-width="1.0" />
<line x1="575.09" y1="562.9117734642836" x2="580.2900000000001" y2="562.9117734642836" stroke="#222" stroke-width="1.0" />
<line x1="581.66" y1="572.8" x2="581.66" y2="566.5400939480835" stroke="#222" stroke-width="1.0" />
<line x1="579.06" y1="566.5400939480835" x2="584.26" y2="566.5400939480835" stroke="#222" stroke-width="1.0" />
<line x1="585.63" y1="554.3" x2="585.63" y2="544.7297407189925" stroke="#222" stroke-width="1.0" />
<line x1="583.03" y1="544.7297407189925" x2="588.23" y2="544.7297407189925" stroke="#222" stroke-width="1.0" />
<line x1="589.6" y1="564.3" x2="589.6" y2="556.278942623152" stroke="#222" stroke-width="1.0" />
<line x1="587.0" y1="556.278942623152" x2="592.2" y2="556.278942623152" stroke="#222" stroke-width="1.0" />
<line x1="593.5699999999999" y1="573.6" x2="593.5699999999999" y2="569.731842808865" stroke="#222" stroke-width="1.0" />
<line x1="590.9699999999999" y1="569.731842808865" x2="596.17" y2="569.731842808865" stroke="#222" stroke-width="1.0" />
<line x1="597.54" y1="568.7" x2="597.54" y2="560.772848768566" stroke="#222" stroke-width="1.0" />
<line x1="594.9399999999999" y1="560.772848768566" x2="600.14" y2="560.772848768566" stroke="#222" stroke-width="1.0" />
<line x1="601.51" y1="531.9" x2="601.51" y2="520.3925020853434" stroke="#222" stroke-width="1.0" />
<line x1="598.91" y1="520.3925020853434" x2="604.11" y2="520.3925020853434" stroke="#222" stroke-width="1.0" />
<line x1="605.48" y1="512.5" x2="605.48" y2="500.11366170242144" stroke="#222" stroke-width="1.0" />
<line x1="602.88" y1="500.11366170242144" x2="608.08" y2="500.11366170242144" stroke="#222" stroke-width="1.0" />
<line x1="609.45" y1="494.1" x2="609.45" y2="480.85694124265126" stroke="#222" stroke-width="1.0" />
<line x1="606.85" y1="480.85694124265126" x2="612.0500000000001" y2="480.85694124265126" stroke="#222" stroke-width="1.0" />
<line x1="613.42" y1="512.8" x2="613.42" y2="497.6283638151052" stroke="#222" stroke-width="1.0" />
<line x1="610.8199999999999" y1="497.6283638151052" x2="616.02" y2="497.6283638151052" stroke="#222" stroke-width="1.0" />
<line x1="617.39" y1="515.5" x2="617.39" y2="502.6162545566727" stroke="#222" stroke-width="1.0" />
<line x1="614.79" y1="502.6162545566727" x2="619.99" y2="502.6162545566727" stroke="#222" stroke-width="1.0" />
<line x1="621.36" y1="516.9" x2="621.36" y2="502.953880379671" stroke="#222" stroke-width="1.0" />
<line x1="618.76" y1="502.953880379671" x2="623.96" y2="502.953880379671" stroke="#222" stroke-width="1.0" />
<line x1="625.33" y1="528.2" x2="625.33" y2="514.8099359987226" stroke="#222" stroke-width="1.0" />
<line x1="622.73" y1="514.8099359987226" x2="627.9300000000001" y2="514.8099359987226" stroke="#222" stroke-width="1.0" />
<line x1="629.3" y1="535.4" x2="629.3" y2="523.697352581944" stroke="#222" stroke-width="1.0" />
<line x1="626.6999999999999" y1="523.697352581944" x2="631.9" y2="523.697352581944" stroke="#222" stroke-width="1.0" />
<line x1="633.27" y1="551" x2="633.27" y2="540.1345066620806" stroke="#222" stroke-width="1.0" />
<line x1="630.67" y1="540.1345066620806" x2="635.87" y2="540.1345066620806" stroke="#222" stroke-width="1.0" />
<line x1="637.24" y1="564.9" x2="637.24" y2="558.3331829799963" stroke="#222" stroke-width="1.0" />
<line x1="634.64" y1="558.3331829799963" x2="639.84" y2="558.3331829799963" stroke="#222" stroke-width="1.0" />
<line x1="641.21" y1="554.1" x2="641.21" y2="544.2074561450739" stroke="#222" stroke-width="1.0" />
<line x1="638.61" y1="544.2074561450739" x2="643.8100000000001" y2="544.2074561450739" stroke="#222" stroke-width="1.0" />
<line x1="645.1800000000001" y1="532.2" x2="645.1800000000001" y2="521.4608947197462" stroke="#222" stroke-width="1.0" />
<line x1="642.58" y1="521.4608947197462" x2="647.7800000000001" y2="521.4608947197462" stroke="#222" stroke-width="1.0" />
<line x1="649.15" y1="529.1" x2="649.15" y2="515.5340663914774" stroke="#222" stroke-width="1.0" />
<line x1="646.55" y1="515.5340663914774" x2="651.75" y2="515.5340663914774" stroke="#222" stroke-width="1.0" />
<line x1="653.12" y1="525.7" x2="653.12" y2="512.0096666983098" stroke="#222" stroke-width="1.0" />
<line x1="650.52" y1="512.0096666983098" x2="655.72" y2="512.0096666983098" stroke="#222" stroke-width="1.0" />
<line x1="657.09" y1="555.5" x2="657.09" y2="549.2927284513456" stroke="#222" stroke-width="1.0" />
<line x1="654.49" y1="549.2927284513456" x2="659.69" y2="549.2927284513456" stroke="#222" stroke-width="1.0" />
<line x1="661.06" y1="544.1" x2="661.06" y2="536.3321556989966" stroke="#222" stroke-width="1.0" />
<line x1="658.4599999999999" y1="536.3321556989966" x2="663.66" y2="536.3321556989966" stroke="#222" stroke-width="1.0" />
<line x1="665.03" y1="570.7" x2="665.03" y2="565.7190652938343" stroke="#222" stroke-width="1.0" />
<line x1="662.43" y1="565.7190652938343" x2="667.63" y2="565.7190652938343" stroke="#222" stroke-width="1.0" />
<line x1="669.0" y1="562.1" x2="669.0" y2="552.3445993055091" stroke="#222" stroke-width="1.0" />
<line x1="666.4" y1="552.3445993055091" x2="671.6" y2="552.3445993055091" stroke="#222" stroke-width="1.0" />
<line x1="672.97" y1="561.7" x2="672.97" y2="554.5431906668629" stroke="#222" stroke-width="1.0" />
<line x1="670.37" y1="554.5431906668629" x2="675.57" y2="554.5431906668629" stroke="#222" stroke-width="1.0" />
<line x1="676.94" y1="579.3" x2="676.94" y2="573.3027585456659" stroke="#222" stroke-width="1.0" />
<line x1="674.34" y1="573.3027585456659" x2="679.5400000000001" y2="573.3027585456659" stroke="#222" stroke-width="1.0" />
<line x1="680.91" y1="574.6" x2="680.91" y2="569.6668690078725" stroke="#222" stroke-width="1.0" />
<line x1="678.31" y1="569.6668690078725" x2="683.51" y2="569.6668690078725" stroke="#222" stroke-width="1.0" />
<line x1="510.2" y1="567.1" x2="510.2" y2="560.2357850808547" stroke="#222" stroke-width="1.0" />
<line x1="507.59999999999997" y1="560.2357850808547" x2="512.8" y2="560.2357850808547" stroke="#222" stroke-width="1.0" />
<line x1="514.17" y1="575.5" x2="514.17" y2="570.2506687057755" stroke="#222" stroke-width="1.0" />
<line x1="511.56999999999994" y1="570.2506687057755" x2="516.77" y2="570.2506687057755" stroke="#222" stroke-width="1.0" />
<line x1="518.14" y1="573.3" x2="518.14" y2="567.9614475561491" stroke="#222" stroke-width="1.0" />
<line x1="515.54" y1="567.9614475561491" x2="520.74" y2="567.9614475561491" stroke="#222" stroke-width="1.0" />
<line x1="522.11" y1="581.4" x2="522.11" y2="575.8626294629731" stroke="#222" stroke-width="1.0" />
<line x1="519.51" y1="575.8626294629731" x2="524.71" y2="575.8626294629731" stroke="#222" stroke-width="1.0" />
<line x1="526.08" y1="573" x2="526.08" y2="566.458741035149" stroke="#222" stroke-width="1.0" />
<line x1="523.48" y1="566.458741035149" x2="528.6800000000001" y2="566.458741035149" stroke="#222" stroke-width="1.0" />
<line x1="530.05" y1="567.8" x2="530.05" y2="559.0349911457611" stroke="#222" stroke-width="1.0" />
<line x1="527.4499999999999" y1="559.0349911457611" x2="532.65" y2="559.0349911457611" stroke="#222" stroke-width="1.0" />
<line x1="534.02" y1="571.9" x2="534.02" y2="564.7380893168252" stroke="#222" stroke-width="1.0" />
<line x1="531.42" y1="564.7380893168252" x2="536.62" y2="564.7380893168252" stroke="#222" stroke-width="1.0" />
<line x1="537.99" y1="570.8" x2="537.99" y2="562.2712719939999" stroke="#222" stroke-width="1.0" />
<line x1="535.39" y1="562.2712719939999" x2="540.59" y2="562.2712719939999" stroke="#222" stroke-width="1.0" />
<line x1="541.96" y1="570" x2="541.96" y2="561.7379971680162" stroke="#222" stroke-width="1.0" />
<line x1="539.36" y1="561.7379971680162" x2="544.5600000000001" y2="561.7379971680162" stroke="#222" stroke-width="1.0" />
<line x1="545.93" y1="572.2" x2="545.93" y2="563.529051775656" stroke="#222" stroke-width="1.0" />
<line x1="543.3299999999999" y1="563.529051775656" x2="548.53" y2="563.529051775656" stroke="#222" stroke-width="1.0" />
<line x1="549.9" y1="576.6" x2="549.9" y2="570.0556322891874" stroke="#222" stroke-width="1.0" />
<line x1="547.3" y1="570.0556322891874" x2="552.5" y2="570.0556322891874" stroke="#222" stroke-width="1.0" />
<line x1="553.87" y1="575.6" x2="553.87" y2="571.4765018901447" stroke="#222" stroke-width="1.0" />
<line x1="551.27" y1="571.4765018901447" x2="556.47" y2="571.4765018901447" stroke="#222" stroke-width="1.0" />
<line x1="557.84" y1="572" x2="557.84" y2="563.9568123344187" stroke="#222" stroke-width="1.0" />
<line x1="555.24" y1="563.9568123344187" x2="560.44" y2="563.9568123344187" stroke="#222" stroke-width="1.0" />
<line x1="561.81" y1="576" x2="561.81" y2="567.9168352634547" stroke="#222" stroke-width="1.0" />
<line x1="559.2099999999999" y1="567.9168352634547" x2="564.41" y2="567.9168352634547" stroke="#222" stroke-width="1.0" />
<line x1="565.78" y1="574" x2="565.78" y2="565.9765200774389" stroke="#222" stroke-width="1.0" />
<line x1="563.18" y1="565.9765200774389" x2="568.38" y2="565.9765200774389" stroke="#222" stroke-width="1.0" />
<line x1="569.75" y1="558.3" x2="569.75" y2="550.0704624826284" stroke="#222" stroke-width="1.0" />
<line x1="567.15" y1="550.0704624826284" x2="572.35" y2="550.0704624826284" stroke="#222" stroke-width="1.0" />
<line x1="573.72" y1="560.5" x2="573.72" y2="551.810914899129" stroke="#222" stroke-width="1.0" />
<line x1="571.12" y1="551.810914899129" x2="576.32" y2="551.810914899129" stroke="#222" stroke-width="1.0" />
<line x1="577.69" y1="579.2" x2="577.69" y2="575.268375081622" stroke="#222" stroke-width="1.0" />
<line x1="575.09" y1="575.268375081622" x2="580.2900000000001" y2="575.268375081622" stroke="#222" stroke-width="1.0" />
<line x1="581.66" y1="570.3" x2="581.66" y2="562.1979603486332" stroke="#222" stroke-width="1.0" />
<line x1="579.06" y1="562.1979603486332" x2="584.26" y2="562.1979603486332" stroke="#222" stroke-width="1.0" />
<line x1="585.63" y1="568.7" x2="585.63" y2="561.6963382382436" stroke="#222" stroke-width="1.0" />
<line x1="583.03" y1="561.6963382382436" x2="588.23" y2="561.6963382382436" stroke="#222" stroke-width="1.0" />
<line x1="589.6" y1="576.8" x2="589.6" y2="572.2112126900689" stroke="#222" stroke-width="1.0" />
<line x1="587.0" y1="572.2112126900689" x2="592.2" y2="572.2112126900689" stroke="#222" stroke-width="1.0" />
<line x1="593.5699999999999" y1="552.3" x2="593.5699999999999" y2="545.8786971142738" stroke="#222" stroke-width="1.0" />
<line x1="590.9699999999999" y1="545.8786971142738" x2="596.17" y2="545.8786971142738" stroke="#222" stroke-width="1.0" />
<line x1="597.54" y1="563.5" x2="597.54" y2="554.4702875578866" stroke="#222" stroke-width="1.0" />
<line x1="594.9399999999999" y1="554.4702875578866" x2="600.14" y2="554.4702875578866" stroke="#222" stroke-width="1.0" />
<line x1="601.51" y1="517.3" x2="601.51" y2="502.04696992539203" stroke="#222" stroke-width="1.0" />
<line x1="598.91" y1="502.04696992539203" x2="604.11" y2="502.04696992539203" stroke="#222" stroke-width="1.0" />
<line x1="605.48" y1="487.9" x2="605.48" y2="473.6254095344513" stroke="#222" stroke-width="1.0" />
<line x1="602.88" y1="473.6254095344513" x2="608.08" y2="473.6254095344513" stroke="#222" stroke-width="1.0" />
<line x1="609.45" y1="481.3" x2="609.45" y2="462.6730233937125" stroke="#222" stroke-width="1.0" />
<line x1="606.85" y1="462.6730233937125" x2="612.0500000000001" y2="462.6730233937125" stroke="#222" stroke-width="1.0" />
<line x1="613.42" y1="506.2" x2="613.42" y2="492.5116908632704" stroke="#222" stroke-width="1.0" />
<line x1="610.8199999999999" y1="492.5116908632704" x2="616.02" y2="492.5116908632704" stroke="#222" stroke-width="1.0" />
<line x1="617.39" y1="527" x2="617.39" y2="517.1061731277359" stroke="#222" stroke-width="1.0" />
<line x1="614.79" y1="517.1061731277359" x2="619.99" y2="517.1061731277359" stroke="#222" stroke-width="1.0" />
<line x1="621.36" y1="526.4" x2="621.36" y2="515.7185437659047" stroke="#222" stroke-width="1.0" />
<line x1="618.76" y1="515.7185437659047" x2="623.96" y2="515.7185437659047" stroke="#222" stroke-width="1.0" />
<line x1="625.33" y1="544.4" x2="625.33" y2="533.5040405636132" stroke="#222" stroke-width="1.0" />
<line x1="622.73" y1="533.5040405636132" x2="627.9300000000001" y2="533.5040405636132" stroke="#222" stroke-width="1.0" />
<line x1="629.3" y1="561" x2="629.3" y2="551.576164876859" stroke="#222" stroke-width="1.0" />
<line x1="626.6999999999999" y1="551.576164876859" x2="631.9" y2="551.576164876859" stroke="#222" stroke-width="1.0" />
<line x1="633.27" y1="539.5" x2="633.27" y2="531.6390496943523" stroke="#222" stroke-width="1.0" />
<line x1="630.67" y1="531.6390496943523" x2="635.87" y2="531.6390496943523" stroke="#222" stroke-width="1.0" />
<line x1="637.24" y1="551.6" x2="637.24" y2="542.339337357341" stroke="#222" stroke-width="1.0" />
<line x1="634.64" y1="542.339337357341" x2="639.84" y2="542.339337357341" stroke="#222" stroke-width="1.0" />
<line x1="641.21" y1="553" x2="641.21" y2="546.7552987825198" stroke="#222" stroke-width="1.0" />
<line x1="638.61" y1="546.7552987825198" x2="643.8100000000001" y2="546.7552987825198" stroke="#222" stroke-width="1.0" />
<line x1="645.1800000000001" y1="555.5" x2="645.1800000000001" y2="546.1877976127574" stroke="#222" stroke-width="1.0" />
<line x1="642.58" y1="546.1877976127574" x2="647.7800000000001" y2="546.1877976127574" stroke="#222" stroke-width="1.0" />
<line x1="649.15" y1="524.7" x2="649.15" y2="513.6292292699051" stroke="#222" stroke-width="1.0" />
<line x1="646.55" y1="513.6292292699051" x2="651.75" y2="513.6292292699051" stroke="#222" stroke-width="1.0" />
<line x1="653.12" y1="529.1" x2="653.12" y2="515.8074734637632" stroke="#222" stroke-width="1.0" />
<line x1="650.52" y1="515.8074734637632" x2="655.72" y2="515.8074734637632" stroke="#222" stroke-width="1.0" />
<line x1="657.09" y1="558.3" x2="657.09" y2="548.0128212157832" stroke="#222" stroke-width="1.0" />
<line x1="654.49" y1="548.0128212157832" x2="659.69" y2="548.0128212157832" stroke="#222" stroke-width="1.0" />
<line x1="661.06" y1="548.5" x2="661.06" y2="539.4128981317598" stroke="#222" stroke-width="1.0" />
<line x1="658.4599999999999" y1="539.4128981317598" x2="663.66" y2="539.4128981317598" stroke="#222" stroke-width="1.0" />
<line x1="665.03" y1="563.8" x2="665.03" y2="554.0834552731211" stroke="#222" stroke-width="1.0" />
<line x1="662.43" y1="554.0834552731211" x2="667.63" y2="554.0834552731211" stroke="#222" stroke-width="1.0" />
<line x1="669.0" y1="569.3" x2="669.0" y2="563.6876497326183" stroke="#222" stroke-width="1.0" />
<line x1="666.4" y1="563.6876497326183" x2="671.6" y2="563.6876497326183" stroke="#222" stroke-width="1.0" />
<line x1="672.97" y1="572.8" x2="672.97" y2="568.7711464764728" stroke="#222" stroke-width="1.0" />
<line x1="670.37" y1="568.7711464764728" x2="675.57" y2="568.7711464764728" stroke="#222" stroke-width="1.0" />
<line x1="676.94" y1="575" x2="676.94" y2="568.621185956017" stroke="#222" stroke-width="1.0" />
<line x1="674.34" y1="568.621185956017" x2="679.5400000000001" y2="568.621185956017" stroke="#222" stroke-width="1.0" />
<line x1="680.91" y1="569.1" x2="680.91" y2="564.8551111891235" stroke="#222" stroke-width="1.0" />
<line x1="678.31" y1="564.8551111891235" x2="683.51" y2="564.8551111891235" stroke="#222" stroke-width="1.0" />
<path d="M510.20 567.10 L514.17 575.50 L518.14 573.30 L522.11 581.40 L526.08 573.00 L530.05 567.80 L534.02 571.90 L537.99 570.80 L541.96 570.00 L545.93 572.20 L549.90 576.60 L553.87 575.60 L557.84 572.00 L561.81 576.00 L565.78 574.00 L569.75 558.30 L573.72 560.50 L577.69 579.20 L581.66 570.30 L585.63 568.70 L589.60 576.80 L593.57 552.30 L597.54 563.50 L601.51 517.30 L605.48 487.90 L609.45 481.30 L613.42 506.20 L617.39 527.00 L621.36 526.40 L625.33 544.40 L629.30 561.00 L633.27 539.50 L637.24 551.60 L641.21 553.00 L645.18 555.50 L649.15 524.70 L653.12 529.10 L657.09 558.30 L661.06 548.50 L665.03 563.80 L669.00 569.30 L672.97 572.80 L676.94 575.00 L680.91 569.10" fill="none" stroke="#ff6600" stroke-width="1.3" />
<path d="M510.20 572.60 L514.17 560.20 L518.14 567.80 L522.11 574.40 L526.08 581.00 L530.05 562.00 L534.02 566.00 L537.99 578.80 L541.96 579.20 L545.93 560.50 L549.90 567.50 L553.87 562.30 L557.84 572.30 L561.81 567.10 L565.78 568.30 L569.75 573.20 L573.72 558.30 L577.69 571.10 L581.66 572.80 L585.63 554.30 L589.60 564.30 L593.57 573.60 L597.54 568.70 L601.51 531.90 L605.48 512.50 L609.45 494.10 L613.42 512.80 L617.39 515.50 L621.36 516.90 L625.33 528.20 L629.30 535.40 L633.27 551.00 L637.24 564.90 L641.21 554.10 L645.18 532.20 L649.15 529.10 L653.12 525.70 L657.09 555.50 L661.06 544.10 L665.03 570.70 L669.00 562.10 L672.97 561.70 L676.94 579.30 L680.91 574.60" fill="none" stroke="#111" stroke-width="1.2" />
<rect x="507.55" y="564.45" width="5.300000000000001" height="5.300000000000001" fill="#ff6600" stroke="#111" stroke-width="1.1" />
<rect x="511.52" y="572.85" width="5.300000000000001" height="5.300000000000001" fill="#ff6600" stroke="#111" stroke-width="1.1" />
<rect x="515.49" y="570.65" width="5.300000000000001" height="5.300000000000001" fill="#ff6600" stroke="#111" stroke-width="1.1" />
<rect x="519.46" y="578.75" width="5.300000000000001" height="5.300000000000001" fill="#ff6600" stroke="#111" stroke-width="1.1" />
<rect x="523.43" y="570.35" width="5.300000000000001" height="5.300000000000001" fill="#ff6600" stroke="#111" stroke-width="1.1" />
<rect x="527.4" y="565.15" width="5.300000000000001" height="5.300000000000001" fill="#ff6600" stroke="#111" stroke-width="1.1" />
<rect x="531.37" y="569.25" width="5.300000000000001" height="5.300000000000001" fill="#ff6600" stroke="#111" stroke-width="1.1" />
<rect x="535.34" y="568.15" width="5.300000000000001" height="5.300000000000001" fill="#ff6600" stroke="#111" stroke-width="1.1" />
<rect x="539.31" y="567.35" width="5.300000000000001" height="5.300000000000001" fill="#ff6600" stroke="#111" stroke-width="1.1" />
<rect x="543.28" y="569.55" width="5.300000000000001" height="5.300000000000001" fill="#ff6600" stroke="#111" stroke-width="1.1" />
<rect x="547.25" y="573.95" width="5.300000000000001" height="5.300000000000001" fill="#ff6600" stroke="#111" stroke-width="1.1" />
<rect x="551.22" y="572.95" width="5.300000000000001" height="5.300000000000001" fill="#ff6600" stroke="#111" stroke-width="1.1" />
<rect x="555.19" y="569.35" width="5.300000000000001" height="5.300000000000001" fill="#ff6600" stroke="#111" stroke-width="1.1" />
<rect x="559.16" y="573.35" width="5.300000000000001" height="5.300000000000001" fill="#ff6600" stroke="#111" stroke-width="1.1" />
<rect x="563.13" y="571.35" width="5.300000000000001" height="5.300000000000001" fill="#ff6600" stroke="#111" stroke-width="1.1" />
<rect x="571.07" y="557.85" width="5.300000000000001" height="5.300000000000001" fill="#ff6600" stroke="#111" stroke-width="1.1" />
<rect x="575.04" y="576.55" width="5.300000000000001" height="5.300000000000001" fill="#ff6600" stroke="#111" stroke-width="1.1" />
<rect x="579.01" y="567.65" width="5.300000000000001" height="5.300000000000001" fill="#ff6600" stroke="#111" stroke-width="1.1" />
<rect x="582.98" y="566.05" width="5.300000000000001" height="5.300000000000001" fill="#ff6600" stroke="#111" stroke-width="1.1" />
<rect x="586.95" y="574.15" width="5.300000000000001" height="5.300000000000001" fill="#ff6600" stroke="#111" stroke-width="1.1" />
<rect x="594.89" y="560.85" width="5.300000000000001" height="5.300000000000001" fill="#ff6600" stroke="#111" stroke-width="1.1" />
<rect x="598.86" y="514.65" width="5.300000000000001" height="5.300000000000001" fill="#ff6600" stroke="#111" stroke-width="1.1" />
<rect x="610.77" y="503.55" width="5.300000000000001" height="5.300000000000001" fill="#ff6600" stroke="#111" stroke-width="1.1" />
<rect x="614.74" y="524.35" width="5.300000000000001" height="5.300000000000001" fill="#ff6600" stroke="#111" stroke-width="1.1" />
<rect x="618.71" y="523.75" width="5.300000000000001" height="5.300000000000001" fill="#ff6600" stroke="#111" stroke-width="1.1" />
<rect x="622.68" y="541.75" width="5.300000000000001" height="5.300000000000001" fill="#ff6600" stroke="#111" stroke-width="1.1" />
<rect x="626.65" y="558.35" width="5.300000000000001" height="5.300000000000001" fill="#ff6600" stroke="#111" stroke-width="1.1" />
<rect x="630.62" y="536.85" width="5.300000000000001" height="5.300000000000001" fill="#ff6600" stroke="#111" stroke-width="1.1" />
<rect x="634.59" y="548.95" width="5.300000000000001" height="5.300000000000001" fill="#ff6600" stroke="#111" stroke-width="1.1" />
<rect x="638.56" y="550.35" width="5.300000000000001" height="5.300000000000001" fill="#ff6600" stroke="#111" stroke-width="1.1" />
<rect x="642.53" y="552.85" width="5.300000000000001" height="5.300000000000001" fill="#ff6600" stroke="#111" stroke-width="1.1" />
<rect x="646.5" y="522.05" width="5.300000000000001" height="5.300000000000001" fill="#ff6600" stroke="#111" stroke-width="1.1" />
<rect x="650.47" y="526.45" width="5.300000000000001" height="5.300000000000001" fill="#ff6600" stroke="#111" stroke-width="1.1" />
<rect x="654.44" y="555.65" width="5.300000000000001" height="5.300000000000001" fill="#ff6600" stroke="#111" stroke-width="1.1" />
<rect x="658.41" y="545.85" width="5.300000000000001" height="5.300000000000001" fill="#ff6600" stroke="#111" stroke-width="1.1" />
<rect x="662.38" y="561.15" width="5.300000000000001" height="5.300000000000001" fill="#ff6600" stroke="#111" stroke-width="1.1" />
<rect x="666.35" y="566.65" width="5.300000000000001" height="5.300000000000001" fill="#ff6600" stroke="#111" stroke-width="1.1" />
<rect x="670.32" y="570.15" width="5.300000000000001" height="5.300000000000001" fill="#ff6600" stroke="#111" stroke-width="1.1" />
<rect x="674.29" y="572.35" width="5.300000000000001" height="5.300000000000001" fill="#ff6600" stroke="#111" stroke-width="1.1" />
<rect x="678.26" y="566.45" width="5.300000000000001" height="5.300000000000001" fill="#ff6600" stroke="#111" stroke-width="1.1" />
<rect x="507.55" y="569.95" width="5.300000000000001" height="5.300000000000001" fill="#fff" stroke="#111" stroke-width="1.1" />
<rect x="511.52" y="557.55" width="5.300000000000001" height="5.300000000000001" fill="#fff" stroke="#111" stroke-width="1.1" />
<rect x="515.49" y="565.15" width="5.300000000000001" height="5.300000000000001" fill="#fff" stroke="#111" stroke-width="1.1" />
<rect x="519.46" y="571.75" width="5.300000000000001" height="5.300000000000001" fill="#fff" stroke="#111" stroke-width="1.1" />
<rect x="523.43" y="578.35" width="5.300000000000001" height="5.300000000000001" fill="#fff" stroke="#111" stroke-width="1.1" />
<rect x="527.4" y="559.35" width="5.300000000000001" height="5.300000000000001" fill="#fff" stroke="#111" stroke-width="1.1" />
<rect x="531.37" y="563.35" width="5.300000000000001" height="5.300000000000001" fill="#fff" stroke="#111" stroke-width="1.1" />
<rect x="535.34" y="576.15" width="5.300000000000001" height="5.300000000000001" fill="#fff" stroke="#111" stroke-width="1.1" />
<rect x="539.31" y="576.55" width="5.300000000000001" height="5.300000000000001" fill="#fff" stroke="#111" stroke-width="1.1" />
<rect x="543.28" y="557.85" width="5.300000000000001" height="5.300000000000001" fill="#fff" stroke="#111" stroke-width="1.1" />
<rect x="547.25" y="564.85" width="5.300000000000001" height="5.300000000000001" fill="#fff" stroke="#111" stroke-width="1.1" />
<rect x="551.22" y="559.65" width="5.300000000000001" height="5.300000000000001" fill="#fff" stroke="#111" stroke-width="1.1" />
<rect x="555.19" y="569.65" width="5.300000000000001" height="5.300000000000001" fill="#fff" stroke="#111" stroke-width="1.1" />
<rect x="559.16" y="564.45" width="5.300000000000001" height="5.300000000000001" fill="#fff" stroke="#111" stroke-width="1.1" />
<rect x="563.13" y="565.65" width="5.300000000000001" height="5.300000000000001" fill="#fff" stroke="#111" stroke-width="1.1" />
<rect x="567.1" y="570.55" width="5.300000000000001" height="5.300000000000001" fill="#fff" stroke="#111" stroke-width="1.1" />
<rect x="571.07" y="555.65" width="5.300000000000001" height="5.300000000000001" fill="#fff" stroke="#111" stroke-width="1.1" />
<rect x="575.04" y="568.45" width="5.300000000000001" height="5.300000000000001" fill="#fff" stroke="#111" stroke-width="1.1" />
<rect x="579.01" y="570.15" width="5.300000000000001" height="5.300000000000001" fill="#fff" stroke="#111" stroke-width="1.1" />
<rect x="582.98" y="551.65" width="5.300000000000001" height="5.300000000000001" fill="#fff" stroke="#111" stroke-width="1.1" />
<rect x="586.95" y="561.65" width="5.300000000000001" height="5.300000000000001" fill="#fff" stroke="#111" stroke-width="1.1" />
<rect x="590.92" y="570.95" width="5.300000000000001" height="5.300000000000001" fill="#fff" stroke="#111" stroke-width="1.1" />
<rect x="594.89" y="566.05" width="5.300000000000001" height="5.300000000000001" fill="#fff" stroke="#111" stroke-width="1.1" />
<rect x="598.86" y="529.25" width="5.300000000000001" height="5.300000000000001" fill="#fff" stroke="#111" stroke-width="1.1" />
<rect x="602.83" y="509.85" width="5.300000000000001" height="5.300000000000001" fill="#fff" stroke="#111" stroke-width="1.1" />
<rect x="606.8" y="491.45" width="5.300000000000001" height="5.300000000000001" fill="#fff" stroke="#111" stroke-width="1.1" />
<rect x="610.77" y="510.15" width="5.300000000000001" height="5.300000000000001" fill="#fff" stroke="#111" stroke-width="1.1" />
<rect x="614.74" y="512.85" width="5.300000000000001" height="5.300000000000001" fill="#fff" stroke="#111" stroke-width="1.1" />
<rect x="618.71" y="514.25" width="5.300000000000001" height="5.300000000000001" fill="#fff" stroke="#111" stroke-width="1.1" />
<rect x="622.68" y="525.55" width="5.300000000000001" height="5.300000000000001" fill="#fff" stroke="#111" stroke-width="1.1" />
<rect x="626.65" y="532.75" width="5.300000000000001" height="5.300000000000001" fill="#fff" stroke="#111" stroke-width="1.1" />
<rect x="630.62" y="548.35" width="5.300000000000001" height="5.300000000000001" fill="#fff" stroke="#111" stroke-width="1.1" />
<rect x="634.59" y="562.25" width="5.300000000000001" height="5.300000000000001" fill="#fff" stroke="#111" stroke-width="1.1" />
<rect x="638.56" y="551.45" width="5.300000000000001" height="5.300000000000001" fill="#fff" stroke="#111" stroke-width="1.1" />
<rect x="642.53" y="529.55" width="5.300000000000001" height="5.300000000000001" fill="#fff" stroke="#111" stroke-width="1.1" />
<rect x="646.5" y="526.45" width="5.300000000000001" height="5.300000000000001" fill="#fff" stroke="#111" stroke-width="1.1" />
<rect x="650.47" y="523.05" width="5.300000000000001" height="5.300000000000001" fill="#fff" stroke="#111" stroke-width="1.1" />
<rect x="654.44" y="552.85" width="5.300000000000001" height="5.300000000000001" fill="#fff" stroke="#111" stroke-width="1.1" />
<rect x="658.41" y="541.45" width="5.300000000000001" height="5.300000000000001" fill="#fff" stroke="#111" stroke-width="1.1" />
<rect x="662.38" y="568.05" width="5.300000000000001" height="5.300000000000001" fill="#fff" stroke="#111" stroke-width="1.1" />
<rect x="666.35" y="559.45" width="5.300000000000001" height="5.300000000000001" fill="#fff" stroke="#111" stroke-width="1.1" />
<rect x="670.32" y="559.05" width="5.300000000000001" height="5.300000000000001" fill="#fff" stroke="#111" stroke-width="1.1" />
<rect x="674.29" y="576.65" width="5.300000000000001" height="5.300000000000001" fill="#fff" stroke="#111" stroke-width="1.1" />
<rect x="678.26" y="571.95" width="5.300000000000001" height="5.300000000000001" fill="#fff" stroke="#111" stroke-width="1.1" />
<rect x="602.83" y="485.25" width="5.300000000000001" height="5.300000000000001" fill="#ff6600" stroke="#111" stroke-width="1.1" />
<rect x="606.8" y="478.65" width="5.300000000000001" height="5.300000000000001" fill="#ff6600" stroke="#111" stroke-width="1.1" />
<rect x="567.1" y="555.65" width="5.300000000000001" height="5.300000000000001" fill="#ff6600" stroke="#111" stroke-width="1.1" />
<rect x="590.92" y="549.65" width="5.300000000000001" height="5.300000000000001" fill="#ff6600" stroke="#111" stroke-width="1.1" />
<text x="-0.4" y="635.6" font-size="20" text-anchor="start" font-weight="bold" fill="#000" >k</text>
<line x1="47.7" y1="788.6999999999999" x2="47.7" y2="661.5" stroke="#111" stroke-width="1.6" />
<line x1="41.7" y1="787.9" x2="47.7" y2="787.9" stroke="#111" stroke-width="1.6" />
<text x="40.0" y="792.9" font-size="12.4" text-anchor="end" font-weight="normal" fill="#111" >0</text>
<line x1="41.7" y1="769.86" x2="47.7" y2="769.86" stroke="#111" stroke-width="1.6" />
<text x="40.0" y="774.86" font-size="12.4" text-anchor="end" font-weight="normal" fill="#111" >5</text>
<line x1="41.7" y1="751.8199999999999" x2="47.7" y2="751.8199999999999" stroke="#111" stroke-width="1.6" />
<text x="40.0" y="756.8199999999999" font-size="12.4" text-anchor="end" font-weight="normal" fill="#111" >10</text>
<line x1="41.7" y1="733.78" x2="47.7" y2="733.78" stroke="#111" stroke-width="1.6" />
<text x="40.0" y="738.78" font-size="12.4" text-anchor="end" font-weight="normal" fill="#111" >15</text>
<line x1="41.7" y1="715.74" x2="47.7" y2="715.74" stroke="#111" stroke-width="1.6" />
<text x="40.0" y="720.74" font-size="12.4" text-anchor="end" font-weight="normal" fill="#111" >20</text>
<line x1="41.7" y1="697.7" x2="47.7" y2="697.7" stroke="#111" stroke-width="1.6" />
<text x="40.0" y="702.7" font-size="12.4" text-anchor="end" font-weight="normal" fill="#111" >25</text>
<line x1="41.7" y1="679.66" x2="47.7" y2="679.66" stroke="#111" stroke-width="1.6" />
<text x="40.0" y="684.66" font-size="12.4" text-anchor="end" font-weight="normal" fill="#111" >30</text>
<line x1="41.7" y1="661.62" x2="47.7" y2="661.62" stroke="#111" stroke-width="1.6" />
<text x="40.0" y="666.62" font-size="12.4" text-anchor="end" font-weight="normal" fill="#111" >35</text>
<line x1="47.7" y1="787.9" x2="203" y2="787.9" stroke="#111" stroke-width="1.6" />
<line x1="59.9" y1="787.9" x2="59.9" y2="793.9" stroke="#111" stroke-width="1.6" />
<text x="59.9" y="807" font-size="12" text-anchor="middle" font-weight="normal" fill="#111" >0</text>
<line x1="85.83" y1="787.9" x2="85.83" y2="793.9" stroke="#111" stroke-width="1.6" />
<text x="85.83" y="807" font-size="12" text-anchor="middle" font-weight="normal" fill="#111" >15</text>
<line x1="111.75999999999999" y1="787.9" x2="111.75999999999999" y2="793.9" stroke="#111" stroke-width="1.6" />
<text x="111.75999999999999" y="807" font-size="12" text-anchor="middle" font-weight="normal" fill="#111" >30</text>
<line x1="137.69" y1="787.9" x2="137.69" y2="793.9" stroke="#111" stroke-width="1.6" />
<text x="137.69" y="807" font-size="12" text-anchor="middle" font-weight="normal" fill="#111" >60</text>
<line x1="163.62" y1="787.9" x2="163.62" y2="793.9" stroke="#111" stroke-width="1.6" />
<text x="163.62" y="807" font-size="12" text-anchor="middle" font-weight="normal" fill="#111" >90</text>
<line x1="189.55" y1="787.9" x2="189.55" y2="793.9" stroke="#111" stroke-width="1.6" />
<text x="189.55" y="807" font-size="12" text-anchor="middle" font-weight="normal" fill="#111" >120</text>
<text x="124.5" y="818.9" font-size="12" text-anchor="middle" font-weight="normal" fill="#111" >Time (min)</text>
<text x="0" y="0" font-size="12" text-anchor="middle" fill="#111" transform="translate(18.5,721.7) rotate(-90)">Blood glucose (mmol/L)</text>
<path d="M59.90 765.70 L85.83 707.90 L111.76 691.40 L137.69 707.90 L163.62 728.30 L189.55 739.50" fill="none" stroke="#ff8000" stroke-width="1.1" />
<rect x="56.8" y="762.6" width="6.2" height="6.2" fill="#ff8000" stroke="none" stroke-width="1.5" />
<rect x="82.73" y="704.8" width="6.2" height="6.2" fill="#ff8000" stroke="none" stroke-width="1.5" />
<rect x="108.66" y="688.3" width="6.2" height="6.2" fill="#ff8000" stroke="none" stroke-width="1.5" />
<rect x="134.59" y="704.8" width="6.2" height="6.2" fill="#ff8000" stroke="none" stroke-width="1.5" />
<rect x="160.52" y="725.2" width="6.2" height="6.2" fill="#ff8000" stroke="none" stroke-width="1.5" />
<rect x="186.45" y="736.4" width="6.2" height="6.2" fill="#ff8000" stroke="none" stroke-width="1.5" />
<line x1="85.83" y1="699.5" x2="85.83" y2="693.9" stroke="#333" stroke-width="1.0" />
<line x1="82.83" y1="693.9" x2="88.83" y2="693.9" stroke="#333" stroke-width="1.0" />
<path d="M59.90 762.10 L85.83 699.50 L111.76 681.10 L137.69 693.90 L163.62 711.90 L189.55 728.70" fill="none" stroke="#222" stroke-width="1.1" />
<rect x="57.25" y="759.45" width="5.3" height="5.3" fill="#fff" stroke="#1a1a1a" stroke-width="1.3" />
<rect x="83.18" y="696.85" width="5.3" height="5.3" fill="#fff" stroke="#1a1a1a" stroke-width="1.3" />
<rect x="109.11" y="678.45" width="5.3" height="5.3" fill="#fff" stroke="#1a1a1a" stroke-width="1.3" />
<rect x="135.04" y="691.25" width="5.3" height="5.3" fill="#fff" stroke="#1a1a1a" stroke-width="1.3" />
<rect x="160.97" y="709.25" width="5.3" height="5.3" fill="#fff" stroke="#1a1a1a" stroke-width="1.3" />
<rect x="186.9" y="726.05" width="5.3" height="5.3" fill="#fff" stroke="#1a1a1a" stroke-width="1.3" />
<path d="M85.70 682.10 L85.70 687.90 M83.19 683.55 L88.21 686.45 M88.21 683.55 L83.19 686.45" fill="none" stroke="#3a3a3a" stroke-width="0.95" />
<path d="M111.90 664.60 L111.90 670.40 M109.39 666.05 L114.41 668.95 M114.41 666.05 L109.39 668.95" fill="none" stroke="#3a3a3a" stroke-width="0.95" />
<path d="M130.50 679.80 L130.50 685.60 M127.99 681.25 L133.01 684.15 M133.01 681.25 L127.99 684.15 M137.60 679.80 L137.60 685.60 M135.09 681.25 L140.11 684.15 M140.11 681.25 L135.09 684.15 M144.70 679.80 L144.70 685.60 M142.19 681.25 L147.21 684.15 M147.21 681.25 L142.19 684.15" fill="none" stroke="#3a3a3a" stroke-width="0.95" />
<path d="M156.20 696.60 L156.20 702.40 M153.69 698.05 L158.71 700.95 M158.71 698.05 L153.69 700.95 M163.30 696.60 L163.30 702.40 M160.79 698.05 L165.81 700.95 M165.81 698.05 L160.79 700.95 M170.40 696.60 L170.40 702.40 M167.89 698.05 L172.91 700.95 M172.91 698.05 L167.89 700.95" fill="none" stroke="#3a3a3a" stroke-width="0.95" />
<path d="M185.95 714.90 L185.95 720.70 M183.44 716.35 L188.46 719.25 M188.46 716.35 L183.44 719.25 M193.05 714.90 L193.05 720.70 M190.54 716.35 L195.56 719.25 M195.56 716.35 L190.54 719.25" fill="none" stroke="#3a3a3a" stroke-width="0.95" />
<line x1="283.5" y1="792.5999999999999" x2="283.5" y2="660.6" stroke="#111" stroke-width="1.6" />
<line x1="277.5" y1="791.8" x2="283.5" y2="791.8" stroke="#111" stroke-width="1.6" />
<text x="272.4" y="796.8" font-size="12.4" text-anchor="end" font-weight="normal" fill="#111" >0</text>
<line x1="277.5" y1="773.0571428571428" x2="283.5" y2="773.0571428571428" stroke="#111" stroke-width="1.6" />
<text x="272.4" y="778.0571428571428" font-size="12.4" text-anchor="end" font-weight="normal" fill="#111" >500</text>
<line x1="277.5" y1="754.3142857142857" x2="283.5" y2="754.3142857142857" stroke="#111" stroke-width="1.6" />
<text x="272.4" y="759.3142857142857" font-size="12.4" text-anchor="end" font-weight="normal" fill="#111" >1000</text>
<line x1="277.5" y1="735.5714285714286" x2="283.5" y2="735.5714285714286" stroke="#111" stroke-width="1.6" />
<text x="272.4" y="740.5714285714286" font-size="12.4" text-anchor="end" font-weight="normal" fill="#111" >1500</text>
<line x1="277.5" y1="716.8285714285714" x2="283.5" y2="716.8285714285714" stroke="#111" stroke-width="1.6" />
<text x="272.4" y="721.8285714285714" font-size="12.4" text-anchor="end" font-weight="normal" fill="#111" >2000</text>
<line x1="277.5" y1="698.0857142857143" x2="283.5" y2="698.0857142857143" stroke="#111" stroke-width="1.6" />
<text x="272.4" y="703.0857142857143" font-size="12.4" text-anchor="end" font-weight="normal" fill="#111" >2500</text>
<line x1="277.5" y1="679.3428571428572" x2="283.5" y2="679.3428571428572" stroke="#111" stroke-width="1.6" />
<text x="272.4" y="684.3428571428572" font-size="12.4" text-anchor="end" font-weight="normal" fill="#111" >3000</text>
<line x1="277.5" y1="660.6" x2="283.5" y2="660.6" stroke="#111" stroke-width="1.6" />
<text x="272.4" y="665.6" font-size="12.4" text-anchor="end" font-weight="normal" fill="#111" >3500</text>
<line x1="283.5" y1="791.8" x2="332" y2="791.8" stroke="#111" stroke-width="1.6" />
<text x="0" y="0" font-size="12" text-anchor="middle" fill="#111" transform="translate(237.5,721.5) rotate(-90)">AUC</text>
<rect x="292.40000000000003" y="689.4" width="13.799999999999978" height="102.39999999999998" fill="#fff" stroke="#111" stroke-width="1.6" />
<rect x="307.6" y="704.5" width="14.200000000000012" height="87.29999999999995" fill="#ff6600" stroke="#111" stroke-width="1.6" />
<line x1="299.2" y1="689.4" x2="299.2" y2="685.6" stroke="#111" stroke-width="1.4" />
<line x1="295.7" y1="685.6" x2="302.7" y2="685.6" stroke="#111" stroke-width="1.4" />
<line x1="314.7" y1="704.5" x2="314.7" y2="700.3" stroke="#111" stroke-width="1.4" />
<line x1="311.2" y1="700.3" x2="318.2" y2="700.3" stroke="#111" stroke-width="1.4" />
<circle cx="299.2" cy="669.5" r="1.5" fill="#111" stroke="none" stroke-width="1" />
<circle cx="296.4" cy="686.6" r="1.5" fill="#111" stroke="none" stroke-width="1" />
<circle cx="299.6" cy="686" r="1.5" fill="#111" stroke="none" stroke-width="1" />
<circle cx="302.7" cy="687.7" r="1.5" fill="#111" stroke="none" stroke-width="1" />
<circle cx="293.3" cy="689.8" r="1.5" fill="#111" stroke="none" stroke-width="1" />
<circle cx="297.9" cy="691.5" r="1.5" fill="#111" stroke="none" stroke-width="1" />
<circle cx="301" cy="692.9" r="1.5" fill="#111" stroke="none" stroke-width="1" />
<circle cx="304.8" cy="694" r="1.5" fill="#111" stroke="none" stroke-width="1" />
<circle cx="299.2" cy="702.4" r="1.5" fill="#111" stroke="none" stroke-width="1" />
<circle cx="312.8" cy="692.9" r="1.5" fill="#111" stroke="none" stroke-width="1" />
<circle cx="318" cy="695" r="1.5" fill="#111" stroke="none" stroke-width="1" />
<circle cx="314.7" cy="700.7" r="1.5" fill="#111" stroke="none" stroke-width="1" />
<circle cx="310" cy="706.1" r="1.5" fill="#111" stroke="none" stroke-width="1" />
<circle cx="313.2" cy="707.6" r="1.5" fill="#111" stroke="none" stroke-width="1" />
<circle cx="316.3" cy="709.1" r="1.5" fill="#111" stroke="none" stroke-width="1" />
<circle cx="320.5" cy="711.8" r="1.5" fill="#111" stroke="none" stroke-width="1" />
<circle cx="309" cy="707" r="1.5" fill="#111" stroke="none" stroke-width="1" />
<path d="M308.20 680.00 L308.20 685.80 M305.69 681.45 L310.71 684.35 M310.71 681.45 L305.69 684.35 M315.30 680.00 L315.30 685.80 M312.79 681.45 L317.81 684.35 M317.81 681.45 L312.79 684.35 M322.40 680.00 L322.40 685.80 M319.89 681.45 L324.91 684.35 M324.91 681.45 L319.89 684.35" fill="none" stroke="#3a3a3a" stroke-width="0.95" />
<text x="349.5" y="635.4" font-size="20" text-anchor="start" font-weight="bold" fill="#000" >l</text>
<rect x="412" y="628.8" width="8" height="7.6" fill="#fff" stroke="#111" stroke-width="1.3" />
<rect x="412" y="640.6" width="8" height="7.6" fill="#ff6600" stroke="#111" stroke-width="1.3" />
<text x="423.2" y="636.9" font-size="12" text-anchor="start" font-weight="normal" fill="#111" >HFD 0.9% NaCl</text>
<text x="423.2" y="648.6" font-size="12" text-anchor="start" font-weight="normal" fill="#111" >HFD 0.6mg/kg Pento</text>
<line x1="403.8" y1="789.5" x2="403.8" y2="661.9" stroke="#111" stroke-width="1.6" />
<line x1="397.8" y1="788.7" x2="403.8" y2="788.7" stroke="#111" stroke-width="1.6" />
<text x="396.1" y="793.7" font-size="12.4" text-anchor="end" font-weight="normal" fill="#111" >0</text>
<line x1="397.8" y1="746.4300000000001" x2="403.8" y2="746.4300000000001" stroke="#111" stroke-width="1.6" />
<text x="396.1" y="751.4300000000001" font-size="12.4" text-anchor="end" font-weight="normal" fill="#111" >5</text>
<line x1="397.8" y1="704.1600000000001" x2="403.8" y2="704.1600000000001" stroke="#111" stroke-width="1.6" />
<text x="396.1" y="709.1600000000001" font-size="12.4" text-anchor="end" font-weight="normal" fill="#111" >10</text>
<line x1="397.8" y1="661.8900000000001" x2="403.8" y2="661.8900000000001" stroke="#111" stroke-width="1.6" />
<text x="396.1" y="666.8900000000001" font-size="12.4" text-anchor="end" font-weight="normal" fill="#111" >15</text>
<line x1="403.8" y1="788.7" x2="560" y2="788.7" stroke="#111" stroke-width="1.6" />
<line x1="416.8" y1="788.7" x2="416.8" y2="794.7" stroke="#111" stroke-width="1.6" />
<text x="416.8" y="807.9" font-size="12" text-anchor="middle" font-weight="normal" fill="#111" >0</text>
<line x1="442.68" y1="788.7" x2="442.68" y2="794.7" stroke="#111" stroke-width="1.6" />
<text x="442.68" y="807.9" font-size="12" text-anchor="middle" font-weight="normal" fill="#111" >15</text>
<line x1="468.56" y1="788.7" x2="468.56" y2="794.7" stroke="#111" stroke-width="1.6" />
<text x="468.56" y="807.9" font-size="12" text-anchor="middle" font-weight="normal" fill="#111" >30</text>
<line x1="494.44" y1="788.7" x2="494.44" y2="794.7" stroke="#111" stroke-width="1.6" />
<text x="494.44" y="807.9" font-size="12" text-anchor="middle" font-weight="normal" fill="#111" >60</text>
<line x1="520.32" y1="788.7" x2="520.32" y2="794.7" stroke="#111" stroke-width="1.6" />
<text x="520.32" y="807.9" font-size="12" text-anchor="middle" font-weight="normal" fill="#111" >90</text>
<line x1="546.2" y1="788.7" x2="546.2" y2="794.7" stroke="#111" stroke-width="1.6" />
<text x="546.2" y="807.9" font-size="12" text-anchor="middle" font-weight="normal" fill="#111" >120</text>
<text x="479.1" y="820" font-size="12" text-anchor="middle" font-weight="normal" fill="#111" >Time (min)</text>
<text x="0" y="0" font-size="12" text-anchor="middle" fill="#111" transform="translate(375,722.2) rotate(-90)">Blood glucose (mmol/L)</text>
<path d="M416.80 710.40 L442.68 744.70 L468.56 752.10 L494.44 757.60 L520.32 758.50 L546.20 753.40" fill="none" stroke="#ff8000" stroke-width="1.1" />
<line x1="442.68" y1="740.6" x2="442.68" y2="748.8000000000001" stroke="#333" stroke-width="1.0" />
<line x1="439.68" y1="740.6" x2="445.68" y2="740.6" stroke="#333" stroke-width="1.0" />
<line x1="439.68" y1="748.8000000000001" x2="445.68" y2="748.8000000000001" stroke="#333" stroke-width="1.0" />
<line x1="468.56" y1="750.1" x2="468.56" y2="754.1" stroke="#333" stroke-width="1.0" />
<line x1="465.56" y1="750.1" x2="471.56" y2="750.1" stroke="#333" stroke-width="1.0" />
<line x1="465.56" y1="754.1" x2="471.56" y2="754.1" stroke="#333" stroke-width="1.0" />
<line x1="494.44" y1="754.0" x2="494.44" y2="761.2" stroke="#333" stroke-width="1.0" />
<line x1="491.44" y1="754.0" x2="497.44" y2="754.0" stroke="#333" stroke-width="1.0" />
<line x1="491.44" y1="761.2" x2="497.44" y2="761.2" stroke="#333" stroke-width="1.0" />
<line x1="520.32" y1="754.9" x2="520.32" y2="762.1" stroke="#333" stroke-width="1.0" />
<line x1="517.32" y1="754.9" x2="523.32" y2="754.9" stroke="#333" stroke-width="1.0" />
<line x1="517.32" y1="762.1" x2="523.32" y2="762.1" stroke="#333" stroke-width="1.0" />
<rect x="413.7" y="707.3" width="6.2" height="6.2" fill="#ff8000" stroke="none" stroke-width="1.5" />
<rect x="439.58" y="741.6" width="6.2" height="6.2" fill="#ff8000" stroke="none" stroke-width="1.5" />
<rect x="465.46" y="749.0" width="6.2" height="6.2" fill="#ff8000" stroke="none" stroke-width="1.5" />
<rect x="491.34" y="754.5" width="6.2" height="6.2" fill="#ff8000" stroke="none" stroke-width="1.5" />
<rect x="517.22" y="755.4" width="6.2" height="6.2" fill="#ff8000" stroke="none" stroke-width="1.5" />
<rect x="543.1" y="750.3" width="6.2" height="6.2" fill="#ff8000" stroke="none" stroke-width="1.5" />
<path d="M416.80 688.50 L442.68 722.30 L468.56 741.50 L494.44 743.10 L520.32 741.50 L546.20 733.50" fill="none" stroke="#222" stroke-width="1.1" />
<line x1="416.8" y1="683.4" x2="416.8" y2="693.6" stroke="#333" stroke-width="1.0" />
<line x1="413.8" y1="683.4" x2="419.8" y2="683.4" stroke="#333" stroke-width="1.0" />
<line x1="413.8" y1="693.6" x2="419.8" y2="693.6" stroke="#333" stroke-width="1.0" />
<line x1="442.68" y1="716.8" x2="442.68" y2="727.8" stroke="#333" stroke-width="1.0" />
<line x1="439.68" y1="716.8" x2="445.68" y2="716.8" stroke="#333" stroke-width="1.0" />
<line x1="439.68" y1="727.8" x2="445.68" y2="727.8" stroke="#333" stroke-width="1.0" />
<line x1="520.32" y1="738.8" x2="520.32" y2="744.2" stroke="#333" stroke-width="1.0" />
<line x1="517.32" y1="738.8" x2="523.32" y2="738.8" stroke="#333" stroke-width="1.0" />
<line x1="517.32" y1="744.2" x2="523.32" y2="744.2" stroke="#333" stroke-width="1.0" />
<rect x="414.15" y="685.85" width="5.3" height="5.3" fill="#fff" stroke="#1a1a1a" stroke-width="1.3" />
<rect x="440.03" y="719.65" width="5.3" height="5.3" fill="#fff" stroke="#1a1a1a" stroke-width="1.3" />
<rect x="465.91" y="738.85" width="5.3" height="5.3" fill="#fff" stroke="#1a1a1a" stroke-width="1.3" />
<rect x="491.79" y="740.45" width="5.3" height="5.3" fill="#fff" stroke="#1a1a1a" stroke-width="1.3" />
<rect x="517.67" y="738.85" width="5.3" height="5.3" fill="#fff" stroke="#1a1a1a" stroke-width="1.3" />
<rect x="543.55" y="730.85" width="5.3" height="5.3" fill="#fff" stroke="#1a1a1a" stroke-width="1.3" />
<path d="M410.70 672.10 L410.70 677.90 M408.19 673.55 L413.21 676.45 M413.21 673.55 L408.19 676.45 M417.80 672.10 L417.80 677.90 M415.29 673.55 L420.31 676.45 M420.31 673.55 L415.29 676.45 M424.90 672.10 L424.90 677.90 M422.39 673.55 L427.41 676.45 M427.41 673.55 L422.39 676.45" fill="none" stroke="#3a3a3a" stroke-width="0.95" />
<path d="M437.30 704.30 L437.30 710.10 M434.79 705.75 L439.81 708.65 M439.81 705.75 L434.79 708.65 M444.40 704.30 L444.40 710.10 M441.89 705.75 L446.91 708.65 M446.91 705.75 L441.89 708.65 M451.50 704.30 L451.50 710.10 M448.99 705.75 L454.01 708.65 M454.01 705.75 L448.99 708.65" fill="none" stroke="#3a3a3a" stroke-width="0.95" />
<path d="M468.50 725.80 L468.50 731.60 M465.99 727.25 L471.01 730.15 M471.01 727.25 L465.99 730.15" fill="none" stroke="#3a3a3a" stroke-width="0.95" />
<path d="M491.25 728.00 L491.25 733.80 M488.74 729.45 L493.76 732.35 M493.76 729.45 L488.74 732.35 M498.35 728.00 L498.35 733.80 M495.84 729.45 L500.86 732.35 M500.86 729.45 L495.84 732.35" fill="none" stroke="#3a3a3a" stroke-width="0.95" />
<path d="M513.40 724.80 L513.40 730.60 M510.89 726.25 L515.91 729.15 M515.91 726.25 L510.89 729.15 M520.50 724.80 L520.50 730.60 M517.99 726.25 L523.01 729.15 M523.01 726.25 L517.99 729.15 M527.60 724.80 L527.60 730.60 M525.09 726.25 L530.11 729.15 M530.11 726.25 L525.09 729.15" fill="none" stroke="#3a3a3a" stroke-width="0.95" />
<path d="M540.10 717.70 L540.10 723.50 M537.59 719.15 L542.61 722.05 M542.61 719.15 L537.59 722.05 M547.20 717.70 L547.20 723.50 M544.69 719.15 L549.71 722.05 M549.71 719.15 L544.69 722.05 M554.30 717.70 L554.30 723.50 M551.79 719.15 L556.81 722.05 M556.81 719.15 L551.79 722.05" fill="none" stroke="#3a3a3a" stroke-width="0.95" />
<line x1="629.6" y1="793.0" x2="629.6" y2="658.4" stroke="#111" stroke-width="1.6" />
<line x1="623.6" y1="792.2" x2="629.6" y2="792.2" stroke="#111" stroke-width="1.6" />
<text x="619.0" y="797.2" font-size="12.4" text-anchor="end" font-weight="normal" fill="#111" >0</text>
<line x1="623.6" y1="758.75" x2="629.6" y2="758.75" stroke="#111" stroke-width="1.6" />
<text x="619.0" y="763.75" font-size="12.4" text-anchor="end" font-weight="normal" fill="#111" >250</text>
<line x1="623.6" y1="725.3000000000001" x2="629.6" y2="725.3000000000001" stroke="#111" stroke-width="1.6" />
<text x="619.0" y="730.3000000000001" font-size="12.4" text-anchor="end" font-weight="normal" fill="#111" >500</text>
<line x1="623.6" y1="691.85" x2="629.6" y2="691.85" stroke="#111" stroke-width="1.6" />
<text x="619.0" y="696.85" font-size="12.4" text-anchor="end" font-weight="normal" fill="#111" >750</text>
<line x1="623.6" y1="658.4000000000001" x2="629.6" y2="658.4000000000001" stroke="#111" stroke-width="1.6" />
<text x="619.0" y="663.4000000000001" font-size="12.4" text-anchor="end" font-weight="normal" fill="#111" >1000</text>
<line x1="629.6" y1="792.2" x2="677.7" y2="792.2" stroke="#111" stroke-width="1.6" />
<text x="0" y="0" font-size="12" text-anchor="middle" fill="#111" transform="translate(589.5,721.1) rotate(-90)">AUC</text>
<rect x="638.0999999999999" y="691.2" width="14.100000000000046" height="101.0" fill="#fff" stroke="#111" stroke-width="1.6" />
<rect x="653.5999999999999" y="723.2" width="13.9" height="69.0" fill="#ff6600" stroke="#111" stroke-width="1.6" />
<line x1="644.8" y1="691.2" x2="644.8" y2="687.2" stroke="#111" stroke-width="1.4" />
<line x1="641.15" y1="687.2" x2="648.4499999999999" y2="687.2" stroke="#111" stroke-width="1.4" />
<line x1="661.2" y1="723.2" x2="661.2" y2="718" stroke="#111" stroke-width="1.4" />
<line x1="657.35" y1="718" x2="665.0500000000001" y2="718" stroke="#111" stroke-width="1.4" />
<circle cx="644.8" cy="673.4" r="1.5" fill="#111" stroke="none" stroke-width="1" />
<circle cx="644.8" cy="679.7" r="1.5" fill="#111" stroke="none" stroke-width="1" />
<circle cx="641.1" cy="690.8" r="1.5" fill="#111" stroke="none" stroke-width="1" />
<circle cx="646.9" cy="690.8" r="1.5" fill="#111" stroke="none" stroke-width="1" />
<circle cx="650.5" cy="691.8" r="1.5" fill="#111" stroke="none" stroke-width="1" />
<circle cx="644.8" cy="693.5" r="1.5" fill="#111" stroke="none" stroke-width="1" />
<circle cx="642.8" cy="705.4" r="1.5" fill="#111" stroke="none" stroke-width="1" />
<circle cx="647.8" cy="706.9" r="1.5" fill="#111" stroke="none" stroke-width="1" />
<circle cx="644.8" cy="688.7" r="1.5" fill="#111" stroke="none" stroke-width="1" />
<circle cx="660.9" cy="695" r="1.5" fill="#111" stroke="none" stroke-width="1" />
<circle cx="660.9" cy="711" r="1.5" fill="#111" stroke="none" stroke-width="1" />
<circle cx="665.1" cy="715.2" r="1.5" fill="#111" stroke="none" stroke-width="1" />
<circle cx="657.4" cy="728.4" r="1.5" fill="#111" stroke="none" stroke-width="1" />
<circle cx="665.8" cy="729.4" r="1.5" fill="#111" stroke="none" stroke-width="1" />
<circle cx="657.4" cy="733.2" r="1.5" fill="#111" stroke="none" stroke-width="1" />
<circle cx="665.1" cy="734" r="1.5" fill="#111" stroke="none" stroke-width="1" />
<circle cx="660.9" cy="742" r="1.5" fill="#111" stroke="none" stroke-width="1" />
<path d="M654.90 678.00 L654.90 683.80 M652.39 679.45 L657.41 682.35 M657.41 679.45 L652.39 682.35 M662.00 678.00 L662.00 683.80 M659.49 679.45 L664.51 682.35 M664.51 679.45 L659.49 682.35 M669.10 678.00 L669.10 683.80 M666.59 679.45 L671.61 682.35 M671.61 679.45 L666.59 682.35" fill="none" stroke="#3a3a3a" stroke-width="0.95" />
</svg></body></html>
